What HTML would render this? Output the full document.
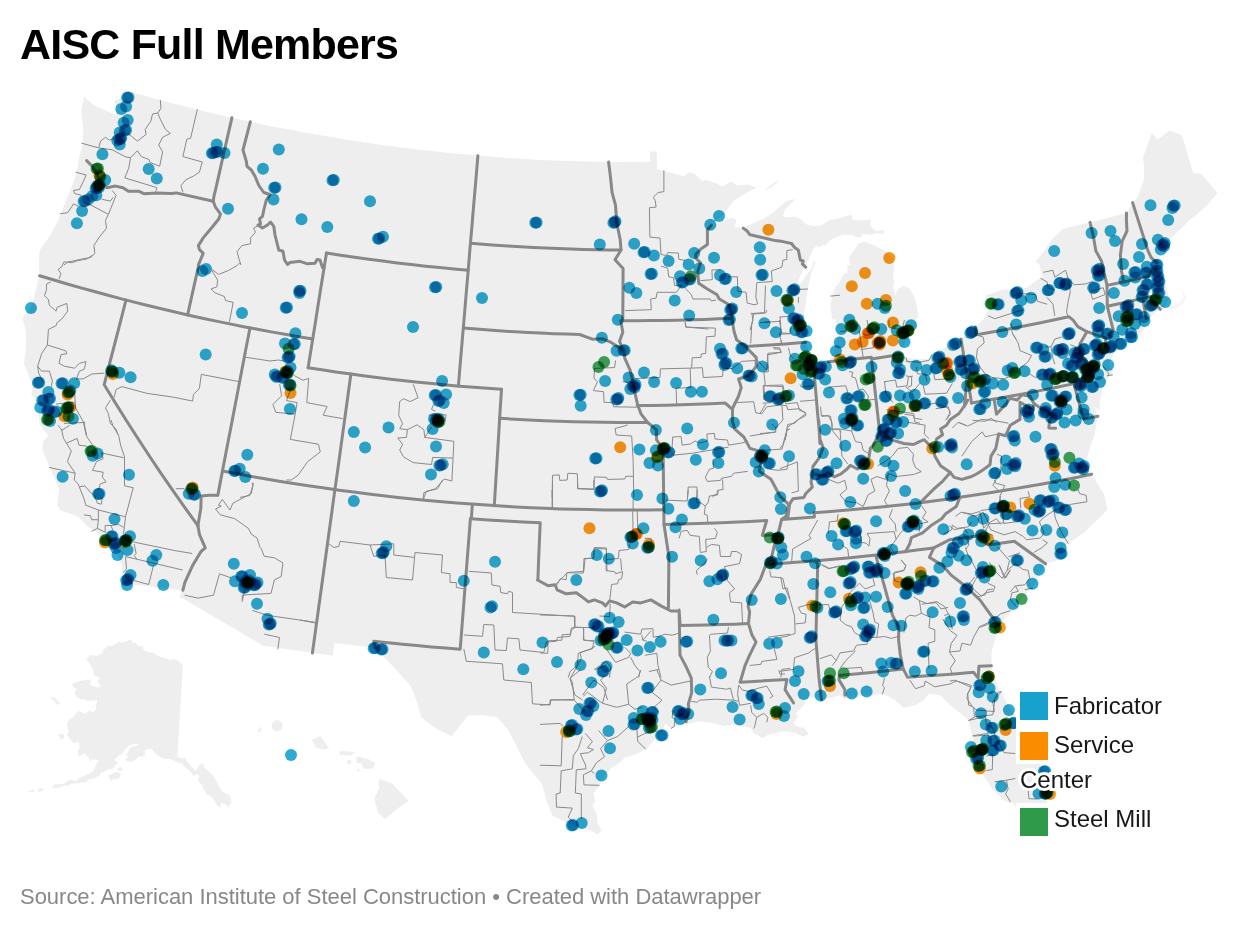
<!DOCTYPE html>
<html><head><meta charset="utf-8"><title>AISC Full Members</title><style>
html,body{margin:0;padding:0;background:#fff}
body{width:1240px;height:930px;position:relative;overflow:hidden;font-family:"Liberation Sans",sans-serif;color:#000}
svg{position:absolute;left:0;top:0}
.base{filter:blur(0.7px)}
.dots circle{mix-blend-mode:multiply;fill-opacity:.9}
h1{position:absolute;left:20px;top:20px;margin:0;font-size:43px;line-height:48px;font-weight:700;letter-spacing:-0.81px;white-space:nowrap}
.foot{position:absolute;left:20px;top:884px;font-size:22px;line-height:26px;letter-spacing:-0.02px;color:#888;white-space:nowrap}
.lg{position:absolute;font-size:24px;line-height:34px;color:#181818}
.lg .bg{position:absolute;background:#fff}
.lg .sw{position:absolute;width:28px;height:28px}
.lg span{position:absolute;white-space:nowrap}
</style></head><body>
<svg width="1240" height="930" viewBox="0 0 1240 930"><g class="base"><g fill="#eeeeee"><path d="M84.1 96.5L81.3 110L83.2 128.6L82.8 140.5L81.9 147.8L78.9 158.3L77.3 169L74.2 180.1L69 193.6L64.5 204.3L58.2 220.6L49.7 236.2L39.7 250.2L38.8 263.3L39.6 275.7L37.7 282.7L32.8 302.5L29.6 309.2L22.2 317.9L26.4 332.5L25.7 350.6L23.9 363.8L33.1 386.3L31.2 394.9L40.5 403.6L38.5 412.1L39.7 424.6L44 430.4L48.3 436.1L43.4 440.8L42.2 449.6L51.7 471.8L59.1 488.9L57.1 505.6L60.3 510.3L77.5 516.3L87.2 526.3L96.8 532.2L103 542.1L110.7 545.5L118.4 554.7L123.4 573.8L124.9 583.6L182.8 590.3L179.4 596.4L263.2 645.8L332.8 655.8L334.5 642.9L375.3 647.8L387 660.1L400.4 674.6L410.5 685.8L415.6 697.9L421.4 717.3L435.6 728.6L451.5 736.3L458.5 727.5L468.2 715.2L482 715.2L496.9 717L507.6 729.1L518 748.4L525 763.2L542.1 784L546.7 801.4L552.7 816L572 825.1L592.9 831.3L592.4 831.3L597.5 834.3L601.5 830.3L597.5 823.2L596.5 813.1L592.4 805.1L595.4 801L593.4 793L598.5 786.9L602.5 778.9L610.6 768.8L620.6 761.7L624.7 757.7L634.8 754.7L645.8 749.6L652.9 741.6L663 730.5L665 723.4L671 728.5L679.1 725.4L687.1 724.2L698.7 721.3L710.3 722.6L723.9 726.1L733.5 724.6L741.3 726.1L751 728.1L752.9 732.9L762.6 737.7L768.4 734.8L776.1 732.9L783.9 731L795.5 732.9L803.2 736.8L809 733.9L804.2 728.1L795.5 726.1L793.5 722.3L798.4 716.5L795.5 713.5L801.3 707.7L803.2 705.8L807.1 699L814.8 697.1L822.6 699L834.2 697.1L840 695.2L843.9 699L853.5 697.1L865.2 695.2L872.9 695.5L882.6 693.5L894.2 699.4L903.9 708.1L915.5 705.2L924.2 699.4L929 693.5L940.6 695.5L950.3 705.2L960 712.9L968.7 720.6L971.6 734.2L973.5 740L968.3 748L972.4 759L983.3 774.9L991.8 788.2L1004.2 800.8L1014 803.6L1024.9 822.2L1037.9 820.1L1045.1 814.6L1046.8 801.2L1045.4 773.9L1034.7 752.4L1024.2 727.9L1009.2 706.9L998.6 688.1L993.9 674.2L991.4 665.8L991.6 651.1L998.1 629.5L1004 619.7L1015.2 606.1L1020 600.9L1033.6 585.2L1045.5 563.8L1058.1 559.9L1062.9 547.2L1084.1 532.5L1107.5 509.7L1103.9 494.1L1091.6 474.3L1086.5 465L1086.4 459L1094.8 433.3L1097.9 416.2L1094.5 406.5L1099.4 410.6L1100 398.7L1102.6 388.4L1107.7 378.1L1111.6 375.5L1112.9 370.3L1109 363.9L1111.6 357.4L1115.5 352.3L1137.4 336.8L1140 334.2L1143.9 329L1150.3 317.4L1155.5 312.3L1163.2 309.7L1169 299.4L1167 289L1164.5 281.3L1162.3 274.1L1156.3 268.2L1157 262.9L1163.4 246.7L1169.9 238.9L1181.8 227.9L1190.1 219.4L1197.2 214.3L1207.3 205.1L1217.5 192.9L1210.5 184.4L1200.9 173.8L1193.2 173.1L1181.9 135.3L1169.9 130.5L1159.8 138L1157.1 139.4L1151.8 132.9L1142.8 157.9L1144.2 166.5L1143.8 180L1137.3 198.3L1132.6 202.6L1126.5 212.9L1090 222.4L1063.2 228.7L1051.1 240.3L1043.2 252.4L1035.6 261.4L1039.6 265L1042.3 277.8L1036.4 280.2L1027.2 287.7L1014.8 289.3L1002.1 289.7L985.1 295.8L990.1 305.8L983.9 318.8L975.4 327L968.9 331.7L961 338.9L945.5 347.3L938.1 355.8L925.6 359.1L916.9 358.9L910.3 358.3L900.1 355.3L905.1 344.3L905.2 337L908.8 332.1L916.6 326.6L916.6 314.9L918.4 320L917.4 308.4L914.5 296.8L908.7 288.1L902.9 286.1L898.1 289L895.2 294.8L893.2 287.1L894.2 281.3L893.2 275.5L894.2 265.8L891.3 256.1L885.5 251.3L880.6 248.4L871.9 244.5L864.2 241.6L858.4 243.5L854.5 250.3L850.6 254.2L849.1 258.1L850.3 265.8L847.7 263.9L847.2 272.6L844.8 273.5L842.9 275.5L839 283.2L835.2 287.1L832.3 294.8L830.3 306.5L832.3 320L835.1 319L838.5 331.8L834.1 351.3L828.3 361.8L820.6 366.6L813.5 364.9L811.4 359.8L805.6 342.3L802.5 326.5L803.2 320L804.2 312.3L806.1 300.6L808.1 287.1L811 273.5L815.8 261.9L813.9 261L811.9 267.7L806 276L801 283L797.4 284.2L800.3 275.5L804.2 268.7L806.1 265.8L810 256.1L813.9 248.4L816.8 245.5L818.7 247.4L823.5 244.5L825.5 245.5L829.4 240.6L837.1 236.8L842.9 234.8L851.6 234.8L856.5 236.8L860.3 237.7L862.3 233.9L871.9 234.8L875.8 232.9L884.5 233.9L883.5 230L875.8 231L870 226.1L871 219.4L862.3 220.3L852.6 220.3L851.6 214.5L839 218.4L829.4 220.3L821.6 225.2L813.9 226.1L806.1 224.2L801.3 219.4L795.5 216.5L786.8 217.4L782.9 216.5L784.8 209.7L790.6 203.9L795.5 199L786.8 201L781 205.8L773.2 212.6L765.5 217.4L753.9 223.2L748.1 225.2L743.2 228.1L734.5 227.1L736.5 220.3L731.6 217.4L722.9 221.3L711.3 225.2L723.9 214.5L726.8 209.7L734.5 200L746.1 193.2L756.8 187.4L748.1 184.5L736.5 185.5L731.6 181.6L721.9 186.5L717.1 183.5L705.5 179.7L702.6 181.6L695.8 174.8L690 171.9L683.9 176.3L664.4 171L657.3 169.2L656.6 151.5L650 151.5L650 161.7L613 162.1L574.7 161.3L536.3 159.7L498 157.3L459.8 154L421.6 150L383.5 145.2L345.5 139.6L307.7 133.1L270 125.9L232.5 117.9L195.1 109.1L157.9 99.5L124.2 90L121.3 95.3L119 99L114 101L117 108L115.6 114.7L111.6 113.1L94.7 105.8L85.5 98Z"/><path d="M765.5 189.4L773.2 183.5L780 180.1L778.1 181.6L771.3 187.4L766.5 189.9Z"/><path d="M1171 311L1176 308.4L1183.9 303.2L1186.5 296.8L1182.6 291L1181.3 291.6L1183.9 296.8L1180 301.9L1173.5 305.8L1168.4 305.8Z" fill="#f5f5f5"/><path d="M130.3 639.2L133.4 643.3L135.4 642.3L138.5 646.3L142.5 645.9L143.6 650L147.7 652.1L152.8 652.5L156.8 654.9L160.9 657L166 658.2L170.1 660.2L174.2 659L178.3 661L183 665.1L177.3 756.6L181.4 758.3L185.4 757.7L186.5 760.7L193.6 768.9L195.7 770.9L198.7 766.8L199.7 764.8L202.8 763.2L204.8 767.9L213 775.4L222.2 791.4L230.4 795.8L231.4 802.6L228.3 807.7L226.3 804.6L221.2 802.6L220.2 807.7L216.1 804.6L215.1 801.6L212 797.5L210 795.4L206.9 794.4L203.8 789.3L201.8 785.2L199.7 782.2L197.7 780.1L199.7 776L196.7 774L193.6 776L189.5 770.9L183.4 765.8L182.4 762.8L180.3 763.2L169.1 758.7L164 759.1L156.8 755L151.7 748.9L144.6 750.1L145 754.6L142.5 757L139.5 756.2L132.3 761.7L126.2 761.1L125.2 758.7L128.3 757.7L126.2 754.6L129.3 750.5L130.3 747.4L134.4 746L138.1 745.4L137.4 743.8L133.4 743.8L129.3 745.8L125.2 748.9L122.1 754.2L119.1 755L114.4 759.7L117.6 762.8L114 767.3L110.9 768.9L107.8 769.3L102.7 772.6L100.7 773L99.7 775.4L94.6 778.1L88.4 779.5L86.4 782.2L81.3 782.2L79.2 783.2L71.1 783.6L68 785.6L63.9 785.6L58.8 787.7L51.7 787.7L54.7 784.2L62.9 784.2L70 779.7L76.2 781.1L79.2 778.1L87.4 774.6L93.5 770.9L96.6 763.8L99.2 759.7L93.5 759.7L91.9 758.3L91.5 760.7L89.9 760.7L88.4 756.6L86.4 756.2L85.4 753.6L78.2 756.2L77.8 750.5L79.8 748.1L78.6 741.3L77.2 742.7L72.7 742.7L67 734.2L69 730.5L67.4 728.4L67.4 721.5L74.1 716.2L77.2 712.1L79.6 710.7L84.3 714.2L89.4 710.7L93.5 712.1L96 709.2L95.6 704.6L97.2 702.5L96.6 699.9L88.4 701.1L83.3 699L80.3 699L76.2 696.4L74.7 692.3L76.8 689.6L73.1 686.8L72.1 683.5L81.3 680.7L87.4 679.4L91.1 680.7L89.9 684.7L97.2 687.6L100.7 686.2L97.6 681.1L99.7 677.4L93.9 675.3L93.1 669.2L86.4 659L89.9 654.9L96.6 656.1L101.7 653.5L103.7 649.4L108.8 645.3L110.9 646.3L119.1 641.6L122.1 642.7L126.2 641.8Z"/><path d="M50.2 697L55.7 697.8L58.4 701.9L60.8 703.5L56.4 704.8L54.7 701.5Z"/><path d="M57.2 734.2L63.3 734.2L64.5 736.2L63.3 738.9L61.3 739.3Z"/><path d="M108.2 775.4L116 772L120.5 773L120.1 777.1L117.6 779.1L113.5 779.1L110.9 781.1Z"/><path d="M117 769.9L120.1 766.8L123.1 769.9L120.1 770.9Z"/><path d="M26.1 792.4L33.3 789.3L34.3 791.4Z"/><path d="M37.4 791.4L39.4 788.3L41.4 787.7L43.5 790.3L40.4 791.8Z"/><path d="M379.3 779.1L391.9 783.5L401.8 793.8L408.9 801.1L397.7 808.6L385.1 819L378.1 813.1L374.3 798.4L379.3 788L378.5 785Z"/><path d="M357.7 756.4L368.1 759.1L375.6 763.5L372.3 768.8L363.3 768.8L361.9 763.5L356.9 762.9L355.5 758.5Z"/><path d="M340.2 751.1L354.9 752L351.3 755.5L338.8 754.7Z"/><path d="M351.5 762L350.8 760.4L349.1 759.7L347.4 760.4L346.7 762L347.4 763.7L349.1 764.4L350.8 763.7Z"/><path d="M359.7 770.3L359 769.1L357.6 769.1L357 770.3L357.6 771.4L359 771.4Z"/><path d="M319.9 736L326.3 743.7L329 748.1L324.3 749.6L316.5 748.1L311.5 740.1Z"/><path d="M282.8 725.8L282.1 723L280 720.9L277.2 720.1L274.4 720.9L272.3 722.9L271.5 725.7L272.2 728.5L274.3 730.5L277.1 731.3L279.9 730.6L282 728.6Z"/><path d="M261 726.4L261.5 730L257.6 733.5L257.7 729.9Z"/></g><g fill="none" stroke="#8a8a8a" stroke-width="1" stroke-linejoin="round"><path d="M160.3 100.1L161 108.2L157.7 113.1L152.5 114L151 120.8L145.2 129.5L146.1 134.4L137.4 141.1L131.6 136.3L126.8 133.4"/><path d="M157.7 113.1L160.6 119.8L165.5 129.5L170.3 133.4L162.6 137.3L158.7 145L162.6 151.8L159.7 166.3"/><path d="M197.4 109.2L190.6 138.2L186.8 139.2L182.9 156.6L202.3 162L199.4 172.1L193.5 176L185.8 179.8L181 185.6L182.9 192.4"/><path d="M81.3 143.1L98.7 147.9L112.3 149.8L125.8 157L130.6 157.6"/><path d="M98.7 147.9L100.6 141.1L105.5 137.3L109.4 140.2L114.2 138.2"/><path d="M130.6 157.6L137.4 150.8L141.3 156.6L149 159.5L150 162.4L159.7 166.3"/><path d="M130.6 157.6L128.7 168.2L124.8 177.9L156.8 187.6L155.8 191.5"/><path d="M75.5 172.1L86.1 175L83.2 181.8L79.4 189.5L73.5 190.5L74.5 193.4L81.3 195.3"/><path d="M60 213.7L67.7 212.7L73.5 204L78.4 206"/><path d="M87.1 203.1L108.4 214.3L116.1 195.3L112.3 190.5"/><path d="M108.4 214.3L105.5 220.5L106.5 228.2L98.7 237.9L93.9 245.6L94.8 253.4L91 257.3L81.3 259.2L67.7 262.1L63.9 265"/><path d="M101.6 199.2L110.3 201.1L113.2 197.3"/><path d="M259.4 225.3L253.5 228.2L255.5 232.1L250.6 237.9L250.6 243.7L241.9 245.6L237.1 251.5L239 259.2L241 265"/><path d="M92.9 255L87.1 258.9L77.4 260.8L71.6 262.7L63.9 261.8L61.9 266.6L58.1 269.5L61 273.4L59 279.2"/><path d="M50.7 282.1L46.5 284L46.5 289.8L44.5 295.6L48.4 299.5L49.4 305.3L56.1 311.1L57.1 307.3L66.8 303.4L67.7 311.1L61.9 318.9L57.1 322.7L56.1 325.6L48.4 329.5L47.4 345L65.8 350.8L66.8 353.7L61 354.7L59 363.4L64.8 366.3L74.5 368.2L79.4 363.4L86.1 361.5L84.2 369.2L79.4 371.1L76.5 378.9"/><path d="M47.4 345L41.6 353.7L37.7 366.3L41.6 371.1L49.4 371.1L52.3 380.8L51.3 386.6"/><path d="M37.7 366.3L38.7 373.1L43.5 382.7"/><path d="M76.5 378.9L83.2 378.9L91.9 374L104.5 373.1"/><path d="M240 381.8L201.3 374.4L199.4 388.5L193.5 394.4L192.6 401.1L174.2 397.3L147.1 393.4L121.9 386.6L116.1 389.5L114.2 397.3"/><path d="M110.3 400.2L105.5 407.9L108.4 413.7L110.3 423.4L116.1 429.2L118.1 435"/><path d="M211.9 269.5L218.7 274.4L228.4 270.5L237.1 265.6L240 262.7"/><path d="M211.9 270.5L217.7 280.2L216.8 286.9L211 288.9L214.8 292.7L224.5 296.6L225.5 300.5L233.2 302.4L229.4 321.8"/><path d="M74.5 390.5L75.5 407.9L83.2 421.5L86.1 435"/><path d="M56.1 404L65.8 403.1L74.5 402.1"/><path d="M63.9 423.4L85.2 422.4"/><path d="M58.1 425.3L61.9 430.2L69.7 425.3"/><path d="M111 420L112.9 425.8L118.7 435.5L120.6 445.2L124.5 456.8L124.5 485.8L133.2 487.7L125.5 516.8L123.5 534.2"/><path d="M83.9 421.9L86.8 436.5L92.6 445.2"/><path d="M101.3 452.9L123.5 457.7"/><path d="M66.5 443.2L77.1 438.4L79 445.2L86.8 446.1"/><path d="M61.6 429.7L63.5 438.4L71.3 451L67.4 461.6L75.2 473.2L74.2 480L78.1 483.9L83.9 498.4L85.8 505.2L98.4 510L125.5 516.8"/><path d="M49 467.4L75.2 473.2"/><path d="M101.3 452.9L103.2 458.7L96.5 461.6L92.6 470.3L103.2 472.3L102.3 477.1L106.1 481.9L100.3 483.9L98.4 489.7"/><path d="M80 486.8L84.8 485.8L90.6 492.6L94.5 495.5L97.4 503.2L101.3 504.2L102.3 497.4"/><path d="M83.9 514.8L90.6 515.8L91.6 519.7L98.4 519.7L98.4 510"/><path d="M98.4 519.7L97.4 528.4L91.6 531.3"/><path d="M97.4 528.4L105.2 532.3L105.2 525.5L111 525.5L112.9 530.3"/><path d="M111 525.5L118.7 524.5L123.5 527.4"/><path d="M133.2 541.9L174.8 550.6L192.3 553.5"/><path d="M134.2 543.9L136.1 553.5L134.2 555.5L137.1 559.4"/><path d="M125.5 556.5L182.6 570"/><path d="M125.5 556.5L126.5 569L122.6 572.9"/><path d="M134.2 580.6L148.7 584.5L153.5 565.2"/><path d="M175.8 488.7L184.5 488.7"/><path d="M253.2 482.9L251.3 493.5L232.9 503.2L230 510L222.3 499.4L218.4 505.2L221.3 506.1L215.5 509L220.3 514.8L234.8 518.7L248.4 528.4L251.3 534.2L257.1 538.1L260 547.7"/><path d="M184.5 595.2L198.1 598.1L213.5 595.2L219.4 573.9L231 577.7"/><path d="M244.5 590.3L242.6 600"/><path d="M244.8 357.1L270 361L278.7 360L283.5 361"/><path d="M294.2 375.5L302.9 380.3L308.7 378.4L306.8 402.6L327.1 406.5L323.2 415.2L342.6 418.6"/><path d="M279.7 384.2L281.6 395.8L272.9 404.5L275.8 412.3L295.2 414.2L297.1 402.6L286.5 400.6L290.3 390"/><path d="M295.2 414.2L290.3 439.4L318.4 444.2L320.3 451.9L307.7 461.6L298.1 475.2L291.3 480L286.5 480"/><path d="M251.6 482.9L253.5 483.9L249.7 495.5L240 497.4"/><path d="M413.2 384.2L418.1 397.7L410.3 401.6L403.5 398.7L399.7 401.6L398.7 415.2L402.6 423.9L399.7 428.7L407.4 429.7L417.1 424.8L423.9 429.7L424.8 437.4L453.9 441.3L451.9 481L444.2 479L435.5 488.7L423.9 492.6L422.9 500.3"/><path d="M407.4 429.7L406.5 437.4L397.7 438L402.6 444.2L399.7 450L403.5 456.8L413.2 462.6L431.6 464.5L432.6 457.4L452.9 458.1"/><path d="M424.8 437.4L431.6 426.8"/><path d="M428.7 415.2L446.1 414.8L445.2 421"/><path d="M433.5 404.5L431.6 409.4L435.5 411.3"/><path d="M472.3 505.2L472.3 510"/><path d="M442.5 480L437.5 488.8L426.3 491.3L423.3 499.5"/><path d="M328.8 543.8L333.8 547.5L338.8 546.3L340 541.3L370 545L373.8 556.3L385 555L386.3 577.5L412.5 580L415 552.5L442.5 555L441.3 572.5L450 573.8L450 582.5L456.3 582.5L456.3 587.5L463.8 588.8"/><path d="M370 545L393.8 543.8L393.8 555L415 557.5"/><path d="M300 620L315 623"/><path d="M468.8 571.3L491.3 573L492 585L500 586.3L500.8 592.5L507.5 593.8L508.8 591.3L512.5 592.5L512.5 612.5L575 616.3L575 627.5L571.3 630L570 636.3L557.5 637.5L556.3 641.3L546.3 642L543.8 652.5L520 650L518.8 638.8L507.5 638L506.3 650.5L495 650L493.8 625L483.8 624.5L482.5 636.3L463.8 635"/><path d="M463.8 648.8L466.3 661.3L502.5 663.8L503.8 680L531.3 682.5L532.5 703.8L550 705L550 700L573.8 699.5"/><path d="M575 627.5L595 627.5"/><path d="M552.5 480L552.5 507.5"/><path d="M577.5 480L577.5 488.8L593.8 489.5L593.8 480"/><path d="M556.3 583.8L561.3 578.8L567.5 572.5L583.8 571.3L585 558.8L593.8 558L594.3 547.5L606.3 548L607 571.3"/><path d="M583.8 628.8L583.3 640L593.8 641.3L592.5 648.8L580 652.5L581.3 658.8L570 678.8L575 695L582.5 700"/><path d="M595 670L606.3 665"/><path d="M582.5 695L593.8 680L603.8 687.5L607.5 700"/><path d="M663.9 170.3L663.9 191.6L658.1 192.6L653.2 197.4L655.2 200.3L656.1 207.1L649.4 207.7L649.9 237.1L660 238.1L661 254.5L666.8 255.5L667.7 252.6L678.4 253L678.8 259.4L685.2 260.3"/><path d="M661 266.1L667.7 268.1L668.7 276.8L673.5 277.7L674.5 285.5L682.3 285.5"/><path d="M625.2 310.6L651.3 309.7L650.7 299L656.1 298.1L657.1 292.3L676.5 292.3L681.3 285.5"/><path d="M685.2 288.4L691 294.2L692.9 299L710.3 299L711.3 301L716.1 300"/><path d="M700.6 280.6L712.3 279.7L711.9 270L721 269.6"/><path d="M727.7 276.8L737.4 276.8L737.8 291.3L746.1 292.3L747.1 302.9L753.9 304.8L757.7 303.9L755.8 297.1L756.8 282.6L772.3 281.6L771.3 271L781.9 267.1L782.9 260.3L786.8 259.4L786.8 250.6L792.6 249.7"/><path d="M765.5 285.5L764.5 312.6L751.9 313.5L752.9 320.3L750 330"/><path d="M780 316.5L781 330"/><path d="M764.5 322.3L780 321.3"/><path d="M797.4 289.4L808.1 289"/><path d="M798.4 297.1L798.4 302.9"/><path d="M685.2 322.3L686.1 327.1L708.4 329"/><path d="M830.3 296.1L840 295.2"/><path d="M685.2 321.1L685.6 327.1L715.4 328.1L715 336.2L706.3 336.8L705.7 353.3L701.3 354L700.9 357.4L692.2 357.8L691.6 368.1L660.4 368.9L660 377.5L634.8 378.5"/><path d="M691.6 368.1L702.3 367.7L703.3 377.5L722.5 376.5L723.1 368.5L732.5 368.5L741.6 361.4L757.7 360.4"/><path d="M690.2 368.5L690.8 387.6L676.1 388.2L676.7 404.8"/><path d="M615.6 360.4L614.6 367.5L594.4 368.5L594 378.5L597.5 381.6L593.4 390.6L603.5 391.7L604.1 402.3L612.6 402.7L613.6 406.8L636.8 407.2"/><path d="M622.7 381.6L628.7 382.6"/><path d="M615 428.5L616.2 435L631.7 436L633.1 459.2L633.8 497.5"/><path d="M615 428.5L624.7 425.9L627.7 424.9"/><path d="M552.1 497.5L552.5 475.3L559.2 474.9L559.8 480.4L567.2 480L567.8 473.3L577.3 473.7L577.9 488.4L594 489L594.4 476.9L606.5 477.3L607.5 479.4L624.7 479L625.7 476.3L633.1 476.3"/><path d="M672.1 447.1L672.7 437L681.1 436.6L682.1 445.1L690.2 444.1L695.2 441L699.3 443.1L707.3 441L706.9 434L714.4 433.4L715 439L727.5 440L728.5 445.1L741.6 443.1L747.7 441"/><path d="M672.1 447.1L675.1 451.1L673.1 455.2L693.2 453.1L728.5 447.1"/><path d="M747.7 471.3L733.5 473.3L731.5 476.3L721.5 478.3L720.4 480.4L707.3 481.4L705.3 477.3L709.4 469.3L713.4 468.3L713 459.2"/><path d="M722.5 479.4L723.1 489.4L717.4 490.4L717 494.5L713.4 495.1L713 497.5"/><path d="M687.6 497.5L688.2 487L696.9 487L697.3 497.5"/><path d="M750.7 313L753.7 314L751.7 325.1L750.7 343.3"/><path d="M753.7 314L765.8 313L766.8 310"/><path d="M779.9 317.1L790 316"/><path d="M764.8 322.5L769.8 322.1"/><path d="M779.9 334.2L790 333.8"/><path d="M781.9 340.2L780.9 343.3"/><path d="M767.8 353.3L780.9 352.3L779.9 349.3L773.9 348.7"/><path d="M767.8 353.3L766.8 370.5L757.7 360.4"/><path d="M784 390.6L782.9 385L763.8 385.6L764.8 399.7L766.8 400.7"/><path d="M733.5 402.7L753.7 401.7L755.7 412.8L761.8 413.8L766.8 406.8L781.9 404.8L782.9 419.9L775.9 427.9L771.9 423.9"/><path d="M775.9 427.9L774.9 432L749.7 436"/><path d="M790 429L787 430L786 436L781.9 449.1L766.8 450.1"/><path d="M788 462.2L787 469.3L777.9 470.3L769.8 469.3"/><path d="M552.1 490L552.1 508.1"/><path d="M633.1 500.1L633.1 510.2"/><path d="M632.7 511.2L633.1 532.3L628.7 533.3"/><path d="M637.2 511.2L637.8 529.3"/><path d="M644.8 538.4L650.9 538.4L651.9 542.4"/><path d="M557.1 584.8L560.2 578.7L566.2 579.7L566.8 572.7L583.3 573.1L584 558.5L593.4 558.1L594 548.5L606.5 548.9L606.1 570.6L614.6 571.7L615.6 573.7L622.7 571.7L621.7 578.7L618.6 579.7L617.6 583.8L611.6 584.4L609.6 600.9"/><path d="M606.1 559.6L618.6 558.5L619 550.5L628.7 549.5L629.7 544.4"/><path d="M620.6 558.5L621.7 570.6"/><path d="M540 615L574.3 616L574.7 627.1L571.3 628.1L570.6 634.2L562.2 634.8L561.8 640.2L548.1 640.8L547.7 653.3L540 652.9"/><path d="M574.7 627.1L583.3 627.5L584 640.2L594.4 640.8"/><path d="M599.5 616L609.6 616.6L610.2 603.9"/><path d="M578.3 653.3L577.3 665.4L570.2 671.5L568.2 677.5"/><path d="M578.3 653.3L589.4 649.3L595.4 646.3"/><path d="M594.4 669.4L606.5 661.4L610.6 667.4L609.6 677.5"/><path d="M606.5 649.3L615.6 662.4L628.7 657.3L630.7 653.3L624.7 647.3"/><path d="M624.7 632.1L640.8 634.2L641.8 629.1L652.9 628.7L653.3 637.2L659 636.2L665 634.2L672.1 635.2L679.1 633.1"/><path d="M642.8 640.2L650.9 631.1"/><path d="M641.8 635.2L642.8 640.2L646.9 641.2"/><path d="M630.7 657.3L634.8 665.4L639.8 671.5L638.8 677.5"/><path d="M644.8 655.3L656.9 653.3L657.9 665.4L661 677.5"/><path d="M648.9 671.5L659 669.4"/><path d="M679.1 538.4L681.1 531.3L687.2 530.3L690.2 535.4L699.3 536.4L700.3 552.5L706.3 551.5L705.7 539.4L715.4 538.4L717.4 532.3L714.4 528.3"/><path d="M706.3 547.5L711.4 544.4L719.4 545.4L720.4 556.5L730.5 556.5L731.5 551.5L736.6 551.5L741.6 554.5L739.6 563.6L724.5 566.6L727.5 580.7L734.6 588.8L729.5 592.8L730.5 601.9L741.6 602.9L742.6 624.1"/><path d="M697.3 574.7L696.3 570.6L705.3 562.6L707.3 558.5"/><path d="M666 500.1L687.2 501.1L688.2 490"/><path d="M697.3 490L696.3 502.1L701.3 503.1L705.3 506.1L704.3 514.2L707.3 515.2L707.7 523.3"/><path d="M718.4 490L717.4 495L709.4 496L708.3 502.1L705.3 506.1"/><path d="M769.8 570.6L770.8 576.7L780.9 577.7L782.9 588.8L787 587.8L790 598.9"/><path d="M767.8 637.2L790 634.2"/><path d="M773.9 647.3L776.9 659.4L761.8 661.4L760.8 664.4L749.7 665.4"/><path d="M709.4 635.2L711.4 634.2L727.5 633.1L728.5 627.1"/><path d="M709.4 635.2L710.4 651.3L707.3 657.3L708.3 667.4L712.4 671.5L709.4 677.5"/><path d="M780.9 677.5L781.9 669.4L790 668.4"/><path d="M540 705.3L550.1 704.3L551.1 699.8L574.3 700.2L572.3 682.1L570.2 678.1L580.3 670"/><path d="M574.3 700.2L583.3 710.3L585.4 713.3"/><path d="M583.3 696.2L587.4 692.2L602.5 703.3L606.5 688.1L600.5 680.1L604.5 676"/><path d="M602.5 703.3L616.6 707.3L628.7 704.3L626.7 684.1L638.8 676L640.8 670"/><path d="M628.7 704.3L634.8 709.3L641.8 707.3"/><path d="M651.9 692.2L662 700.2L653.9 707.3L659 712.3"/><path d="M656.9 670L661 680.1L671 685.1L690.2 681.1"/><path d="M661 680.1L651.9 692.2"/><path d="M540 724.4L560.2 723.4L563.2 726.5"/><path d="M562.2 736.5L561.2 765.8L540 765.2"/><path d="M582.3 736.5L578.3 748.6L573.3 755.7L572.3 768.8L561.2 770.8L560.2 793L556.1 794L556.5 807.1L572.3 808.1L568.2 817.2L572.3 821.2"/><path d="M585.4 733.5L592.4 741.6L587.4 747.6L593.4 749.6L588.4 752.7L580.3 753.7L585.4 764.8L586 768.8L576.3 769.8L575.3 793L581.3 794L581.3 819.2"/><path d="M598.5 730.5L607.5 740.6L600.5 748.6L604.5 756.7L596.5 762.7L591.4 770.8L594.4 773.8"/><path d="M591.4 770.8L583.3 774.8L584 784.9L599.5 785.3"/><path d="M607.5 740.6L617.6 736.5L628.7 726.5"/><path d="M636.8 728.5L637.8 741.6L645.8 749"/><path d="M636.8 737.5L644.8 733.5L649.9 731.5"/><path d="M673.1 710.3L672.1 717.4L675.1 719.4L674.1 726.5L671 728.5"/><path d="M691.2 701.3L697.3 702.3L699.3 700.2L715.4 699.2L733.5 700.2L738.6 701.3"/><path d="M709.4 676L711.4 687.1L726.5 689.2L730.5 688.1L733.5 700.2"/><path d="M738.6 685.1L742.6 690.2L748.7 691.2L758.8 688.1L766.8 686.1L769.8 691.2L772.9 696.2L769.8 698.2"/><path d="M738.6 685.1L737.6 694.2L739.6 705.3L750.7 703.3"/><path d="M750.7 705.3L751.7 712.3L756.7 717.4L754.7 726.5L753.7 728.5"/><path d="M756.7 717.4L763.8 713.3L767.8 717.4L766.8 722.4"/><path d="M778.9 670L779.9 674L785 674"/><path d="M780 577.4L782.9 578.4L784.8 587.1L790.6 601.6L794.5 616.1L795.1 633.5L785.8 636.5L780 637.4"/><path d="M798.4 607.4L808.1 604.5L820.6 604.9"/><path d="M798.4 607.4L801.3 613.2L806.1 614.2L805.2 622.9L795.5 623.9"/><path d="M780 671.3L793.5 669.4L794.5 657.7L809 652.9L811 651L815.8 648.1"/><path d="M821.6 564.8L828.4 568.7L840 565.8"/><path d="M819.7 604.9L828.4 604.5L830.3 610.3"/><path d="M841.9 606.5L845.8 601.6L849.7 592.9L859.4 583.2L865.2 589L874.8 585.2L872.9 578.4L877.7 575.5"/><path d="M840 620L845.8 624.8L851.6 626.8L854.5 632.6L861.3 636.5"/><path d="M841.9 606.5L840 620"/><path d="M870 601.6L872.9 612.3L874.8 621.9L878.7 623.9L876.8 637.4L884.5 636.5L891.3 638.4L898.1 636.5"/><path d="M819.7 658.7L831.3 654.8L836.1 660.6L832.3 665.5"/><path d="M836.1 660.6L840 652.9L853.5 651L856.5 645.2L867.1 644.2L868.1 637.4L876.8 637.4"/><path d="M840 668.4L845.8 660.6L855.5 651"/><path d="M845.8 668.4L861.3 667.4L863.2 673.2"/><path d="M893.2 573.5L894.2 580.3L899 582.3"/><path d="M893.2 573.5L903.9 570.6L905.8 565.8L901 560"/><path d="M913.5 596.8L919.4 600.6L921.3 613.2L915.5 616.1L909.7 615.2L905.8 618.1L903.9 632.6"/><path d="M919.4 600.6L927.1 603.5L936.8 601.6L944.5 606.5L948.4 614.2"/><path d="M921.3 613.2L930 617.1L929 627.7L934.8 629.7L934.8 641.3L928.1 643.2L929 668.4"/><path d="M942.6 619L950.3 630.6L957.1 635.5L951.3 643.2L949.4 651.9L960 651L961.9 643.2L970.6 645.2L973.5 637.4L979.4 626.8L990 621.9"/><path d="M949.4 651.9L955.2 660.6L950.3 668.4L952.3 674.2"/><path d="M1010.3 591.9L1015.2 586.1L1020 585.2"/><path d="M970.6 589L975.5 579.4L981.3 572.6"/><path d="M992.9 589L987.1 590L985.2 594.8L977.4 596.8"/><path d="M999.7 565.8L1004.5 578.4L1010.3 569.7"/><path d="M884.5 678.1L882.6 685.8L884.5 687.7L882.2 694.5"/><path d="M909.7 680L915.5 688.7L924.2 685.8L925.2 681L934.8 686.8L950.3 683.9L956.1 681L966.8 683.9L971.6 685.8"/><path d="M971.6 685.8L967.7 693.5L968.7 705.2L973.5 707.1L974.5 716.8L968.7 720.6"/><path d="M974.5 716.8L992.9 714.8L994.8 699.4L999.7 693.5L1001.6 691.6"/><path d="M973.5 736.1L985.2 735.2"/><path d="M780 404.8L786.8 405.8L787.7 409.7L799.4 408.7L806.1 413.5L798.4 419.4L787.7 427.1L782.9 444.5L780 448.4"/><path d="M780 468.7L797.4 461.9L798.4 491L791.6 492.9"/><path d="M821.6 416.5L828.4 415.5L831.3 421.3L832.3 429L840 429L841.9 456.1L847.7 463.9"/><path d="M851.6 431L855.5 441.6L861.3 442.6L863.2 450.3L868.1 453.2"/><path d="M840 429L851.6 431L852.6 423.2"/><path d="M828.4 479.4L838.1 483.2L844.8 480.3L846.8 489L840 494.8L845.8 501.6L856.5 502.6L863.2 506.5L868.1 494.8L874.8 491L871 479.4L876.8 476.5L885.5 479.4L888.4 473.5"/><path d="M888.4 473.5L886.5 485.2L889.4 491L884.5 500.6L887.4 505.5"/><path d="M877.7 465.8L884.5 461.9L892.3 456.1L898.1 448.4L907.7 447.4L913.5 454.2L912.6 460L915.5 467.7L921.3 471.6L913.5 474.5L896.1 476.5L888.4 473.5"/><path d="M886.5 409.7L913.5 413.5L914.5 418.4L922.3 419.4"/><path d="M907.7 422.3L925.2 425.2L924.2 433.9L929 438.7"/><path d="M935.8 403.9L946.5 406.8L950.3 411.6L946.5 419.4"/><path d="M958.1 422.3L967.7 426.1L981.3 419.4L992.9 420.3L1008.4 423.2"/><path d="M961.9 456.1L971.6 441.6L982.3 431.9L985.2 436.8L998.7 433.9"/><path d="M817.7 520L809 535.5L811 538.4L792.6 549L791.6 562.6"/><path d="M829.4 521.9L837.1 521L838.1 514.2"/><path d="M829.4 521.9L828.4 533.5"/><path d="M841.9 545.2L847.7 549L848.7 556.8"/><path d="M860.3 531.6L861.3 542.3L866.1 543.2L869 546.1L870 538.4L867.1 533.5L894.2 531.6L896.1 539.4"/><path d="M892.3 509.4L889.4 517.1L895.2 523.9L896.1 531.6"/><path d="M896.1 539.4L890.3 547.1L894.2 552.9"/><path d="M896.1 539.4L900 533.5L905.8 527.7"/><path d="M921.3 505.5L926.1 512.3L922.3 518.1L928.1 521.9L919.4 523.9L919.4 531.6"/><path d="M998.7 491L992.9 485.2L1000.6 471.6L1001.6 456.1L996.8 454.2"/><path d="M961.9 512.3L975.5 516.1L983.2 512.3L989 523.9L1003.5 522.9L1002.6 510.3L1020 512.3"/><path d="M949.4 525.8L954.2 529.7L963.9 527.7L967.7 533.5"/><path d="M989 523.9L985.2 531.6L992.9 535.5"/><path d="M965.8 549L968.7 545.2L967.7 539.4"/><path d="M1008.4 556.8L1020 552.9"/><path d="M998.7 564.5L1005.5 578.1L1010.3 570.3"/><path d="M894.2 580L894.2 572.3L903.9 570.3L905.8 565.5L901 559.7"/><path d="M821.6 564.5L829.4 568.4L838.1 566.5"/><path d="M1043.2 272.3L1052.9 270.3L1054.8 277.1L1065.5 270.3L1068.4 279L1074.2 284.8L1085.8 283.9L1093.5 281"/><path d="M1040.3 278.1L1047.1 281.9L1048.1 287.7L1054.8 289.7"/><path d="M1068.4 279L1070.3 291.6L1068.4 300.3L1066.5 311.9L1068.4 316.8"/><path d="M1047.1 297.4L1052.9 304.2L1054.8 315.8"/><path d="M1011.3 289.7L1012.3 296.5L1020 293.5L1035.5 294.5L1037.4 301.3L1047.1 304.2"/><path d="M988.1 315.8L994.8 318.7L1016.1 311.9L1023.9 310"/><path d="M1090.6 291.6L1103.2 287.7L1105.2 294.5L1092.6 299.4L1090.6 291.6"/><path d="M1011.3 323.5L1012.3 333.2L1016.1 339"/><path d="M977.4 335.2L983.2 337.1L984.2 342.9L977.4 348.7L976.5 357.4L979.4 366.1L985.2 373.9L992.9 377.7L1004.5 378.7L1016.1 373.9"/><path d="M1012.3 333.2L1018.1 342.9L1020 350.6L1031.6 355.5L1027.7 362.3L1020 368.1L1016.1 373.9"/><path d="M1045.2 346.8L1051 346.8L1054.8 339L1061.6 337.1"/><path d="M1051 346.8L1052.9 358.4L1054.8 364.2"/><path d="M1029.7 373.9L1035.5 377.7L1041.3 373.9"/><path d="M905.8 361.3L919.4 362.3L929 360.3L931.9 354.5"/><path d="M916.5 367.1L917.4 373.9L925.2 373.9L927.1 381.6"/><path d="M933.9 373.9L934.8 379.7L952.3 378.7L953.2 373.9"/><path d="M923.2 385.5L925.2 394.2L946.5 393.2L952.3 383.5"/><path d="M905.8 375.8L911.6 376.8L911.6 385.5L907.7 387.4"/><path d="M927.1 404.8L936.8 402.9"/><path d="M935.8 408.7L948.4 406.8L950.3 414.5L945.5 420.3"/><path d="M972.6 420.3L985.2 421.3L991 418.4L996.8 422.3"/><path d="M952.3 428.1L958.1 422.3L965.8 425.2"/><path d="M1103.2 366.1L1109 373.9L1107.1 375.8L1112.9 374.8"/><path d="M1070.3 344.8L1076.1 346.8L1074.2 352.6"/><path d="M760 322.6L770.3 321.9"/><path d="M779.4 320L781.3 332.9L790.3 333.5L791 327.7"/><path d="M779.4 332.9L781.3 342.6"/><path d="M772.9 347.7L779.4 347.7L781.3 352.3L767.7 354.8L768.4 371.6L763.9 372.3L765.2 384.5L763.2 385.8L763.9 400"/><path d="M788.4 347.7L790.3 355.5L793.5 358.7"/><path d="M763.9 385.8L782.6 386.5L783.9 397.4L772.9 400L771.6 402.6L762.6 403.2"/><path d="M785.8 403.9L797.4 402.6L799.4 410.3L805.2 412.3L805.8 415.5L798.7 419.4L794.8 423.2L787.7 424.5L785.2 440"/><path d="M783.9 397.4L785.8 403.9"/><path d="M800 384.5L801.3 387.1L814.2 385.8"/><path d="M800 401.3L815.5 400"/><path d="M760 413.5L765.8 403.9"/><path d="M760 433.5L775.5 432.3L776.1 429.7"/><path d="M820.6 406.5L821.3 415.5L830.3 416.1L832.3 424.5L831.6 429.7L838.7 429L841.3 432.3"/><path d="M829 387.1L845.8 385.8L847.7 392.3"/><path d="M849 371.6L852.9 372.3L851.6 376.8L855.5 378.1L858.7 389.7L863.2 389L868.4 396.1L867.7 400L874.8 399.4"/><path d="M845.8 397.4L849 400L852.9 396.1L849.7 393.5L845.8 397.4"/><path d="M831.6 429.7L840 440"/><path d="M840 331.6L846.5 331"/><path d="M859.4 331L860.6 340.6L863.2 357.4"/><path d="M867.1 320L868.4 327.7L873.5 330.3"/><path d="M863.2 334.2L867.1 335.5L872.3 333.5"/><path d="M860.6 349.7L873.5 347.7L874.2 344.5"/><path d="M889 320L889 327.7L901.9 329.7L904.5 320"/><path d="M905.8 357.4L907.1 361.3L910.3 362.6"/><path d="M883.9 381.9L895.5 380L896.8 387.1L907.1 385.8L908.4 376.8L912.9 376.1"/><path d="M905.8 387.1L912.3 392.3L920 383.2"/><path d="M884.5 381.3L885.8 393.5L892.9 402.6"/><path d="M911 411.6L920 411"/><path d="M904.5 414.2L913.5 415.5L914.8 421.9L920 423.2"/><path d="M994.2 480L995.8 483.2L1004.7 485.6L1002.3 491.3L999.8 496.1L1003.9 523.5L1015.2 521.9"/><path d="M1028.1 491.3L1029.7 496.9L1020 498.5L1020.8 508.2"/><path d="M980.5 510.6L997.4 508.2L1000.6 496.1"/><path d="M955.5 516.3L961.1 512.3L971.6 513.9L979.7 511.5L983.7 528.4L987.7 523.5L996.6 518.7L1000.6 524.4"/><path d="M987.7 523.5L991 530L1003.9 534.8L1015.2 531.6L1023.2 536.5L1026.5 539.7L1040.2 538.1L1044.2 533.2L1039.4 521.9L1044.2 517.1L1053.9 510.6L1055.5 518.7L1061.9 533.2L1068.4 543.7"/><path d="M943.4 534L951.5 530L952.3 525.2L957.1 528.4L968.4 526.8L971.6 521.9"/><path d="M1042.6 539.7L1047.4 542.9L1041.8 547.7L1033.7 552.6"/><path d="M1053.9 510.6L1071.6 504.2L1086.9 501.8L1086.1 495.3L1079.7 493.7L1078.1 489.7"/><path d="M997.4 546.9L1009.5 560.6L1007.1 570.3L1015.2 563.9L1023.2 569.5L1028.1 570.3L1029.7 578.4L1024.8 584.8L1018.4 585.6"/><path d="M965.2 547.7L968.4 555.8L971.6 560.6L976.5 570.3"/><path d="M989.4 562.3L993.4 569.5L1002.3 578.4L1007.1 570.3"/><path d="M987.7 583.2L995 586.5L993.4 591.3L985.3 592.9L981.3 596.1L968.4 584.8L974.8 576.8"/><path d="M1015.2 585.6L1018.4 591.3L1011.9 592.9L1010.3 599.4L1016.8 607.4"/><path d="M1024.8 589.7L1032.9 588.1"/><path d="M921.6 604.2L936.1 602.6L941 609L948.2 607.4"/><path d="M944.2 615.5L949 613.9L952.3 629.2"/><path d="M978.9 627.6L987.7 624.4L1000.6 613.9L1010.3 610.6"/><path d="M950 681L954.8 680.2L966.1 685L971 687.4L967.7 693.9L966.9 698.7L972.6 706.8L976.6 710L994.4 711.6L992.7 701.9L998.4 692.3L1001.6 691.5"/><path d="M968.5 720.5L985.5 716.5L986.3 724.5L992.7 727.7L995.2 735.8L1004 752.7L1015.3 753.5"/><path d="M972.6 735.8L987.9 733.4L988.7 740.6"/><path d="M986.3 756L992.7 754.4L992.3 769.7L986.3 770.5"/><path d="M994.4 781.8L1006.5 780.2L1015.3 778.5"/><path d="M1006.5 780.2L1008.1 789L1005.6 793.9L1010.5 801.9"/><path d="M1027.4 782.6L1029 798.7L1037.1 799"/><path d="M260.8 547.7L264.2 556.2L274.4 557.8L282.9 562.9L281.2 576.5L274.4 579.9L271 593.4L242.2 595.1L242.2 601.9"/><path d="M252.4 610.4L267.6 615.4L315 622.2"/><path d="M264.2 634.1L279.5 637.5L277.8 649.3"/></g><g fill="none" stroke="#888" stroke-width="3" stroke-linejoin="round" stroke-linecap="round"><path d="M86.6 160.6L92 166L97 174L100 182L106.8 187.7L115.6 186.1L122.9 187.7L128.5 191.3L139 191.3L143.9 193.7L156.8 192.9L171.3 193.4L176.1 192.9L213.2 201.3"/><path d="M213.2 201.3L214 196L215.5 189.9L219.6 171.8L223.7 153.7L227.8 135.7L231.9 117.8"/><path d="M213.2 201.3L215.6 207.4L220.5 213.9L218.9 218.7L212.9 226.3L203.2 237.9L198.4 245.6L199.4 249.5L203.2 253.4L198.4 265L199.4 262.4L199.4 262.4L195.4 279.9L191.5 297.4L187.6 314.9"/><path d="M39.6 275.7L53.1 279.7L66.5 283.7L80 287.6L93.5 291.3L107.1 295L120.6 298.6L134.2 302.1L147.8 305.5L161.4 308.8L175.1 312L188.8 315.2L202.5 318.2L216.2 321.1L229.9 323.9L243.7 326.7L257.5 329.3L271.2 331.9L285.1 334.3L298.9 336.7L312.7 338.9"/><path d="M126 300L120.6 321.2L115.1 342.3L109.6 363.5L104.2 384.7L104.2 384.7L115.1 402.5L126.2 420.3L137.6 438L149.2 455.7L161 473.3L173.1 490.8L185.4 508.3L197.9 525.7"/><path d="M197.9 525.7L200.8 508.4L201.2 496L209.3 495.2L217.6 495.3L217.8 495.4L221.8 474.4L225.8 453.5L229.9 432.5L233.9 411.6L237.9 390.7L241.9 369.7L245.9 348.8L250 327.9"/><path d="M197.9 525.7L199.6 534.9L205.3 547.9L201 551.5L192.3 566.1L184.9 582.4L182.8 590.3"/><path d="M222.5 471L237 473.8L251.5 476.4L266.1 479L280.7 481.4L295.3 483.8L309.9 486L324.6 488.1L339.2 490.2L353.9 492.1L368.6 494L383.3 495.7L398 497.4L412.7 498.9L427.4 500.4L442.1 501.7L456.9 503L471.6 504.1L486.4 505.1L501.1 506.1L515.9 506.9L530.7 507.7L545.4 508.3L560.2 508.9L575 509.3L589.8 509.6L604.6 509.9L619.4 510L634.2 510L649 510L663.8 509.8"/><path d="M472.4 504.2L471.3 518.7L470.4 518.6L468.7 540.4L467 562.2L465.3 584L463.6 605.8L461.9 627.5L460.2 649.2L460.2 649.2L445.8 648.1L431.4 646.9L417 645.6L402.6 644.2L388.2 642.7L373.8 641.2L375.3 647.8"/><path d="M312.4 653.1L315.6 629.9L318.8 606.7L322 583.5L325.2 560.3L328.4 537L331.6 513.7L334.8 490.4L338.1 467.2L341.3 443.9L344.5 420.6L347.7 397.3L350.9 374.1"/><path d="M308.1 367.7L311.8 344.7L315.5 321.7L319.1 298.7L322.8 275.8L326.5 253"/><path d="M308.1 367.7L321.9 369.8L335.6 371.9L349.4 373.8L363.2 375.7L376.9 377.5L390.7 379.2L404.6 380.7L418.4 382.2L432.2 383.6L446.1 384.9L459.9 386.2L473.8 387.3L487.6 388.3L501.5 389.2"/><path d="M250.3 121.8L243 150L246.3 161.3L247 166.3L251.3 170L255 176.3L258.8 185.5L263.8 192.5L270 194.5L266.3 200L263.8 210L262.5 216.3L259.5 218.8L260.5 223.8L258 225L262.5 228L267.5 225L270.5 222L273.8 226.3L275 235L277.5 245L278.8 250L283 251.3L284.5 260L287.5 264.5L290 262.5L300 261.3L307.5 263.8L315 263.3L317 259.5L320 260L322.5 267.5L324 268.1"/><path d="M326.5 253L340.6 255.2L354.7 257.3L368.8 259.2L383 261.1L397.2 262.9L411.3 264.6L425.5 266.2L439.7 267.6L454 269L468.2 270.3"/><path d="M477.9 155.7L476 178.5L474 201.3L472.1 224.2L470.1 247.2L468.2 270.3L466.2 293.3L464.3 316.5L462.3 339.6L460.3 362.8L458.4 386"/><path d="M470.5 243.2L483 244.2L495.5 245.2L508 246L520.6 246.8L533.1 247.5L545.7 248.1L558.2 248.6L570.8 249.1L583.3 249.4L595.9 249.7L608.4 249.9L621 250"/><path d="M463.3 328L476.2 329.1L489.1 330.1L502 331L515 331.8L527.9 332.5L540.9 333.1L553.8 333.7L566.8 334.1L579.7 334.5L592.2 339.2L602.8 338.8L611.1 342.4L622.7 349.7"/><path d="M501.5 389.2L500 412.5L498.6 435.8L497.2 459.1L495.7 482.4L494.3 505.7"/><path d="M499.6 418.3L514.4 419.2L529.2 420L544 420.7L558.8 421.2L573.6 421.7L588.4 422.1L603.2 422.3L618 422.5L632.8 422.5L647.6 422.5"/><path d="M471.3 518.7L488.5 519.9L505.8 521L523 521.9L540.2 522.7L540.2 522.7L539.4 541.5L538.6 560.4L537.9 579.2L537.5 580L548.1 585.8L555.1 584.8L557.1 589.8L566.2 593.8L576.3 592.8L583.3 597.9L588.4 601.9L594.4 599.9L602.5 602.9L605.5 605.9L609.6 600.9L616.6 602.9L624.7 606.9L632.7 601.9L640.8 602.9L650.9 599.9L661 605.9L671 611L679.1 611L680.1 625.1L679.1 610.1L679.4 625.1L679.7 640.1L680 655.1L686.1 666.6L691.3 678.1L691.7 692.6L688.3 704.2L689.2 711.5L686.2 721.7"/><path d="M679.4 625.5L693.2 625.3L707 625L720.9 624.6L734.7 624.2L748.5 623.6"/><path d="M668.4 607.7L668.9 556.7L664 524.4L663.8 509.8L663.1 448.6"/><path d="M663.1 448.6L656.6 439.9L656.4 429.7L647.6 422.5L641 413.8L637.7 405L635 393.4L634 386.1L630.1 370.1L624.8 358.4L623.8 350"/><path d="M622.7 350L619.6 341L622.8 332.3L620.8 320.7L622.8 320.7L623.1 268.5L615 259.8L621 250L620.2 239.6L616.8 223.2L615.5 205.1L612.1 192.7L610.4 176.4L608.6 162.1"/><path d="M622.8 320.7L636.5 320.7L650.1 320.6L663.8 320.4L677.4 320.2L691 319.8L704.6 319.4L718.3 318.8L731.9 318.2"/><path d="M637.2 405.6L651.9 405.4L666.5 405.2L681.2 404.8L695.8 404.3L710.4 403.7L725.1 403L732.1 409.1"/><path d="M664 524.4L681.1 524.1L698.2 523.6L715.4 523.1L732.5 522.3L749.6 521.5L766.7 520.5L762.3 535.4L778 534.4"/><path d="M711.3 225.2L707.4 230L707.4 244.5L701.6 248.4L695.8 254.2L695.8 258.1L700.6 262.9L697.7 271.6L698.7 283.2L707.4 289L717.1 294.8L719 298.7L728.7 304.5L731.6 312.3L731.9 318.2L734 331.2L736.6 339.8L745.4 346.5L756.3 357.6L756.2 366.3L749.2 375.5L738.6 379L741.2 387.6L738.4 396.5L732.5 408.5L732.5 421.6L734.6 428.8L743.9 437.1L750 448.4L761.4 451.6L762.2 458.5L759.2 471.3L771 479.3L780 496.2L788.6 504.4L786 516.3L781.6 519.5L778 534.4L774.1 546.3L771 559.7L765.9 564.4L760.4 579.3L751 594.4L748.1 606.2L749.6 611.9L748.5 623.6L752 635.1L756 642.1L749.4 655.6L745 665.7L740.1 682.2L786.9 679.5L785.1 689.8L793.5 702.9"/><path d="M743.2 228.1L747.1 231L750 234.8L767.4 238.7L775.2 240.6L782.9 241.6L791.6 243.5L794.5 247.4L798.4 250.3L800.3 260L803.2 261L802.3 263.9L805.7 267.2"/><path d="M745.4 346.5L765.5 345.3L785.5 343.9L805.6 342.3"/><path d="M813.2 363.2L815.3 386.5L817.3 409.8L819.4 433.1L819.9 443.4L818.7 420L820 439.4L823.2 447.7L818.7 458.7L812.9 466.5L812.3 474.2"/><path d="M788.6 504.4L787.7 518.1L789.7 503.9L792.9 498.7L803.9 497.4L805.8 493.5L812.3 487.1L811 481.9L812.3 474.2L816.8 474.2L822.6 476.8L827.7 472.9L834.2 476.8L840.6 474.2L847.1 469L850.3 465.2L857.4 469L863.9 463.9L869 457.4L870.3 448.4L872.9 445.8L878.7 434.8L894.2 440.6L903.9 443.5L913.5 444.5L919.4 441.6L924.2 439.7L929 444.5L933.9 448.4L936.8 438.7L942.6 434.8L940.6 429L946.5 425.2L950.3 419.4L959 413.5L965.8 403.9L967.7 400L964.3 406.3L965.6 393.9L966.2 383.8L967.2 376.5"/><path d="M961 338.9L964.5 360.3L968 381.6L971.5 403"/><path d="M971.5 403L988.7 400.1L1005.7 397.1L1022.8 393.9L1039.9 390.6L1056.9 387.2L1073.8 383.6"/><path d="M975.4 327L976.7 334.8L976.7 334.8L992.1 332.1L1007.5 329.2L1022.9 326.3L1038.2 323.2L1053.5 320L1068.8 316.7L1073.1 320.2L1077.8 326.6L1086.9 331.7"/><path d="M1086.9 331.7L1079.9 344L1080.3 352.9L1085.4 360.7L1093.4 366.4L1088 372.1L1081.3 379.6L1080.4 388.7"/><path d="M1086.9 331.7L1105.8 338.1L1105.3 347.2"/><path d="M1111.1 336.8L1108.7 334.4L1113.3 330.3L1107.3 306.3L1107 285.4L1101.6 261.3L1095.8 250.8L1093.4 236.5L1090 222.4"/><path d="M1126.5 212.9L1126.4 220.7L1127 231L1122.2 241.2L1120.4 255.1L1121.5 271.3L1123.7 281.9"/><path d="M1107 285.4L1117.2 283.3L1127.3 281.1L1137.5 278.9L1147.6 276.6L1150 272.9L1156.1 269.2"/><path d="M1107.3 306.3L1119 303.7L1130.7 301.1L1142.4 298.4L1151.2 296.4L1152 299.5L1154.9 303.8L1160.3 309.3"/><path d="M1142.7 298.6L1146.3 318.4"/><path d="M1157 262.9L1151.2 257.6L1147.8 250.4L1132.6 202.6"/><path d="M1073.8 383.6L1077.6 379.2L1081.3 379.6"/><path d="M1073.8 383.6L1083.6 419.1L1097.9 416.2"/><path d="M1055.7 428.2L1048.8 428.1L1049.6 420.5L1052.4 415.5L1046.5 410.7L1039.8 407.6L1034.2 403.6L1032 400.2L1030.1 396.1L1021.9 394.7L1017.3 400L1010.1 398.4L1004.8 405.3L996.5 414.1L994.1 399.2"/><path d="M1034.2 403.6L1033.1 409.5L1020 402.2L1020 419.4L1010.3 425.2L1005.5 435.8L998.7 433.9L995.8 448.4L991 456.1L990 464.8L983.2 469.7L977.4 473.5L971.6 476.5L961.9 479.4L954.2 477.4L950.3 472.6"/><path d="M950.3 472.6L940.6 465.8L934.8 456.1L933.9 448.4"/><path d="M950.3 472.6L942.6 481.3L934.8 488.1L928.1 494.8L921.3 501.6"/><path d="M960 497.3L944.9 499.4L929.7 501.5L914.5 503.4L914.5 503.4L897.8 505.3L881.1 507L864.3 508.6L847.6 510.1L830.8 511.4L814.1 512.7L814.4 517L814.4 517L798.1 518.3L781.6 519.5"/><path d="M960 497.3L976.5 494.8L993 492.3L1009.5 489.6L1026 486.8L1042.4 483.9L1058.8 480.8L1075.2 477.7L1091.6 474.3"/><path d="M960 497.3L956.3 506.4L945.7 513.8L941.7 518.8L931 525.6L922.6 532.9L911.4 537.6L909.8 543.7L905.6 551.8"/><path d="M933.8 547.9L917 550.1L900.3 552.2L883.5 554.2L866.8 556L850 557.7L833.2 559.3L816.4 560.7L799.6 562.1L782.7 563.3L765.9 564.4"/><path d="M933.8 547.9L940.6 544.3L949.4 539.8L980.8 535.6L981.4 539.4L983.9 537.5L988.2 545.1L1014.3 541.3L1045.5 563.8"/><path d="M933.8 547.9L929.3 557.3L937.1 562.1L943.1 565.7L950.9 574.9L966.7 587.3L980 600L989.4 613.2L998.6 625"/><path d="M991.4 665.8L978.9 666.2L978.2 678L973.5 672.3L973.5 672.3L957.1 673.7L940.6 675L924.1 676.1L907.6 677.2L903.2 668.9L903.2 668.9L887.2 670.7L871.3 672.4L855.3 674L839.3 675.5L839 679.9L844.8 689.5L844.9 695.3"/><path d="M903.2 668.9L900.3 654.7L898.6 640.3L898.8 627.1L892.6 615.5L875.8 555.6"/><path d="M815.1 560.9L817.7 563.9L815.9 639.6L818.9 677.2L821.5 699.7"/><path d="M828.3 361.8L842.6 360.3L856.9 358.8L871.3 357.2L871.5 358.9L871.5 358.9L885.8 356.7L900 354.4"/><path d="M871.5 358.9L874.3 384L877.1 409.1L879.9 434.2"/></g></g><g class="dots"><circle cx="128.5" cy="97.4" r="6" fill="#18a1cd"/><circle cx="127.2" cy="97.7" r="6" fill="#18a1cd"/><circle cx="121.3" cy="109" r="6" fill="#18a1cd"/><circle cx="126.1" cy="106.6" r="6" fill="#18a1cd"/><circle cx="127.7" cy="120" r="6" fill="#18a1cd"/><circle cx="123.7" cy="122.7" r="6" fill="#18a1cd"/><circle cx="126.1" cy="130" r="6" fill="#18a1cd"/><circle cx="124.8" cy="130.3" r="6" fill="#18a1cd"/><circle cx="119.7" cy="132.4" r="6" fill="#18a1cd"/><circle cx="120.5" cy="138.9" r="6" fill="#18a1cd"/><circle cx="119.2" cy="139.2" r="6" fill="#18a1cd"/><circle cx="121.2" cy="137.8" r="6" fill="#18a1cd"/><circle cx="117.3" cy="140.5" r="6" fill="#18a1cd"/><circle cx="119.7" cy="144.5" r="6" fill="#18a1cd"/><circle cx="102.4" cy="154.2" r="6" fill="#18a1cd"/><circle cx="97.9" cy="168.4" r="6" fill="#2e9a4a"/><circle cx="96.6" cy="168.7" r="6" fill="#2e9a4a"/><circle cx="99.5" cy="175.2" r="6" fill="#fa8c00"/><circle cx="100.3" cy="176.8" r="6" fill="#2e9a4a"/><circle cx="105.2" cy="180" r="6" fill="#18a1cd"/><circle cx="98.7" cy="185.6" r="6" fill="#18a1cd"/><circle cx="97" cy="186" r="6" fill="#18a1cd"/><circle cx="99.7" cy="184.1" r="6" fill="#18a1cd"/><circle cx="99" cy="187.4" r="6" fill="#18a1cd"/><circle cx="97" cy="188" r="6" fill="#18a1cd"/><circle cx="95.7" cy="188.3" r="6" fill="#18a1cd"/><circle cx="96.3" cy="195.3" r="6" fill="#18a1cd"/><circle cx="92.3" cy="196.1" r="6" fill="#18a1cd"/><circle cx="85" cy="201" r="6" fill="#18a1cd"/><circle cx="83.7" cy="201.3" r="6" fill="#18a1cd"/><circle cx="88.2" cy="199.4" r="6" fill="#18a1cd"/><circle cx="82.1" cy="211" r="6" fill="#18a1cd"/><circle cx="76.9" cy="223.2" r="6" fill="#18a1cd"/><circle cx="148.7" cy="169" r="6" fill="#18a1cd"/><circle cx="156.8" cy="178.4" r="6" fill="#18a1cd"/><circle cx="216.8" cy="144.5" r="6" fill="#18a1cd"/><circle cx="213.2" cy="152.9" r="6" fill="#18a1cd"/><circle cx="211.9" cy="153.2" r="6" fill="#18a1cd"/><circle cx="217.3" cy="151.8" r="6" fill="#18a1cd"/><circle cx="216" cy="152.1" r="6" fill="#18a1cd"/><circle cx="224.5" cy="152.9" r="6" fill="#18a1cd"/><circle cx="39.2" cy="382.4" r="6" fill="#18a1cd"/><circle cx="37.9" cy="382.7" r="6" fill="#18a1cd"/><circle cx="62.9" cy="383.2" r="6" fill="#18a1cd"/><circle cx="61.6" cy="383.5" r="6" fill="#18a1cd"/><circle cx="74.2" cy="383.2" r="6" fill="#18a1cd"/><circle cx="48.4" cy="392.1" r="6" fill="#18a1cd"/><circle cx="67.7" cy="394.5" r="6" fill="#fa8c00"/><circle cx="69.4" cy="392.1" r="6" fill="#2e9a4a"/><circle cx="68.1" cy="392.4" r="6" fill="#2e9a4a"/><circle cx="70.2" cy="390.5" r="6" fill="#18a1cd"/><circle cx="43.5" cy="400.2" r="6" fill="#18a1cd"/><circle cx="42.2" cy="400.5" r="6" fill="#18a1cd"/><circle cx="50" cy="398.5" r="6" fill="#18a1cd"/><circle cx="48.7" cy="398.8" r="6" fill="#18a1cd"/><circle cx="40.3" cy="407.4" r="6" fill="#18a1cd"/><circle cx="48.4" cy="410.6" r="6" fill="#18a1cd"/><circle cx="47.1" cy="410.9" r="6" fill="#18a1cd"/><circle cx="49.1" cy="409.5" r="6" fill="#18a1cd"/><circle cx="56.5" cy="411.5" r="6" fill="#18a1cd"/><circle cx="54" cy="412.3" r="6" fill="#18a1cd"/><circle cx="67.7" cy="408.2" r="6" fill="#2e9a4a"/><circle cx="66.4" cy="408.5" r="6" fill="#2e9a4a"/><circle cx="68.4" cy="407.1" r="6" fill="#2e9a4a"/><circle cx="70.2" cy="407.4" r="6" fill="#fa8c00"/><circle cx="64.5" cy="416.3" r="6" fill="#fa8c00"/><circle cx="68.5" cy="416.3" r="6" fill="#2e9a4a"/><circle cx="72.9" cy="418.7" r="6" fill="#18a1cd"/><circle cx="48.4" cy="419.5" r="6" fill="#2e9a4a"/><circle cx="47.1" cy="419.8" r="6" fill="#2e9a4a"/><circle cx="50" cy="421.1" r="6" fill="#18a1cd"/><circle cx="111.3" cy="370.3" r="6" fill="#18a1cd"/><circle cx="112.9" cy="371.5" r="6" fill="#2e9a4a"/><circle cx="111.6" cy="371.8" r="6" fill="#2e9a4a"/><circle cx="112.9" cy="374" r="6" fill="#fa8c00"/><circle cx="119.4" cy="372.7" r="6" fill="#18a1cd"/><circle cx="130.6" cy="377.3" r="6" fill="#18a1cd"/><circle cx="91.9" cy="451" r="6" fill="#2e9a4a"/><circle cx="90.6" cy="451.3" r="6" fill="#2e9a4a"/><circle cx="92.7" cy="455.8" r="6" fill="#18a1cd"/><circle cx="97.6" cy="453.4" r="6" fill="#18a1cd"/><circle cx="62.6" cy="476.8" r="6" fill="#18a1cd"/><circle cx="129" cy="474.7" r="6" fill="#18a1cd"/><circle cx="31" cy="308" r="6" fill="#18a1cd"/><circle cx="202.5" cy="271" r="6" fill="#18a1cd"/><circle cx="206" cy="269" r="6" fill="#18a1cd"/><circle cx="205.7" cy="354.5" r="6" fill="#18a1cd"/><circle cx="278.8" cy="149.5" r="6" fill="#18a1cd"/><circle cx="263" cy="168.8" r="6" fill="#18a1cd"/><circle cx="275.5" cy="187.5" r="6" fill="#18a1cd"/><circle cx="274.2" cy="187.8" r="6" fill="#18a1cd"/><circle cx="273.5" cy="199.5" r="6" fill="#18a1cd"/><circle cx="333.8" cy="180" r="6" fill="#18a1cd"/><circle cx="332.5" cy="180.3" r="6" fill="#18a1cd"/><circle cx="370" cy="201.3" r="6" fill="#18a1cd"/><circle cx="301.5" cy="219.3" r="6" fill="#18a1cd"/><circle cx="327.3" cy="227" r="6" fill="#18a1cd"/><circle cx="379.3" cy="238.5" r="6" fill="#18a1cd"/><circle cx="378" cy="238.8" r="6" fill="#18a1cd"/><circle cx="383" cy="236.8" r="6" fill="#18a1cd"/><circle cx="228" cy="208.8" r="6" fill="#18a1cd"/><circle cx="300.5" cy="290.8" r="6" fill="#18a1cd"/><circle cx="299.2" cy="291.1" r="6" fill="#18a1cd"/><circle cx="299.5" cy="293" r="6" fill="#18a1cd"/><circle cx="287" cy="307.5" r="6" fill="#18a1cd"/><circle cx="285.7" cy="307.8" r="6" fill="#18a1cd"/><circle cx="242" cy="313" r="6" fill="#18a1cd"/><circle cx="436.3" cy="287" r="6" fill="#18a1cd"/><circle cx="435" cy="287.3" r="6" fill="#18a1cd"/><circle cx="482" cy="298" r="6" fill="#18a1cd"/><circle cx="413" cy="327" r="6" fill="#18a1cd"/><circle cx="295.4" cy="333.2" r="6" fill="#18a1cd"/><circle cx="285" cy="343.5" r="6" fill="#18a1cd"/><circle cx="294.8" cy="344" r="6" fill="#18a1cd"/><circle cx="293.5" cy="344.3" r="6" fill="#18a1cd"/><circle cx="288.6" cy="348.8" r="6" fill="#2e9a4a"/><circle cx="288.9" cy="357.3" r="6" fill="#18a1cd"/><circle cx="287.6" cy="357.6" r="6" fill="#18a1cd"/><circle cx="289.6" cy="356.2" r="6" fill="#18a1cd"/><circle cx="290.5" cy="367.4" r="6" fill="#18a1cd"/><circle cx="287.1" cy="372" r="6" fill="#18a1cd"/><circle cx="285.8" cy="372.3" r="6" fill="#18a1cd"/><circle cx="287.8" cy="370.9" r="6" fill="#18a1cd"/><circle cx="285.5" cy="371.5" r="6" fill="#fa8c00"/><circle cx="288" cy="373" r="6" fill="#2e9a4a"/><circle cx="286.7" cy="373.3" r="6" fill="#2e9a4a"/><circle cx="274.8" cy="374.4" r="6" fill="#18a1cd"/><circle cx="277.4" cy="376.5" r="6" fill="#18a1cd"/><circle cx="276.1" cy="376.8" r="6" fill="#18a1cd"/><circle cx="283.4" cy="377.5" r="6" fill="#18a1cd"/><circle cx="282.1" cy="377.8" r="6" fill="#18a1cd"/><circle cx="290.1" cy="384.5" r="6" fill="#18a1cd"/><circle cx="288.8" cy="384.8" r="6" fill="#18a1cd"/><circle cx="290.5" cy="385.5" r="6" fill="#2e9a4a"/><circle cx="290.5" cy="393" r="6" fill="#fa8c00"/><circle cx="289.9" cy="409.1" r="6" fill="#18a1cd"/><circle cx="442.1" cy="381.1" r="6" fill="#18a1cd"/><circle cx="436" cy="395" r="6" fill="#18a1cd"/><circle cx="434.7" cy="395.3" r="6" fill="#18a1cd"/><circle cx="446.1" cy="394.6" r="6" fill="#18a1cd"/><circle cx="439.7" cy="400.6" r="6" fill="#18a1cd"/><circle cx="438.4" cy="400.9" r="6" fill="#18a1cd"/><circle cx="443.7" cy="403.1" r="6" fill="#18a1cd"/><circle cx="437.7" cy="420.2" r="6" fill="#18a1cd"/><circle cx="435.9" cy="420.6" r="6" fill="#18a1cd"/><circle cx="438.7" cy="418.7" r="6" fill="#18a1cd"/><circle cx="438" cy="422" r="6" fill="#18a1cd"/><circle cx="436.3" cy="419.1" r="6" fill="#18a1cd"/><circle cx="439.5" cy="421.5" r="6" fill="#2e9a4a"/><circle cx="438.2" cy="421.8" r="6" fill="#2e9a4a"/><circle cx="434" cy="419" r="6" fill="#18a1cd"/><circle cx="432.6" cy="428.9" r="6" fill="#18a1cd"/><circle cx="436" cy="446.4" r="6" fill="#18a1cd"/><circle cx="440.7" cy="465.2" r="6" fill="#18a1cd"/><circle cx="439.4" cy="465.5" r="6" fill="#18a1cd"/><circle cx="442.7" cy="464.2" r="6" fill="#18a1cd"/><circle cx="431" cy="474.6" r="6" fill="#18a1cd"/><circle cx="353.8" cy="431.9" r="6" fill="#18a1cd"/><circle cx="365.1" cy="447.4" r="6" fill="#18a1cd"/><circle cx="388.5" cy="427.5" r="6" fill="#18a1cd"/><circle cx="353.8" cy="501" r="6" fill="#18a1cd"/><circle cx="247.3" cy="454.7" r="6" fill="#18a1cd"/><circle cx="235.6" cy="470.8" r="6" fill="#18a1cd"/><circle cx="234.3" cy="471.1" r="6" fill="#18a1cd"/><circle cx="239.7" cy="468.8" r="6" fill="#18a1cd"/><circle cx="245.3" cy="476.9" r="6" fill="#18a1cd"/><circle cx="99.5" cy="493.8" r="6" fill="#18a1cd"/><circle cx="98.2" cy="494.1" r="6" fill="#18a1cd"/><circle cx="114.5" cy="519" r="6" fill="#18a1cd"/><circle cx="106.3" cy="540" r="6" fill="#2e9a4a"/><circle cx="105" cy="540.3" r="6" fill="#2e9a4a"/><circle cx="105" cy="542.5" r="6" fill="#fa8c00"/><circle cx="112.5" cy="536.3" r="6" fill="#18a1cd"/><circle cx="111.2" cy="536.6" r="6" fill="#18a1cd"/><circle cx="115" cy="543.8" r="6" fill="#18a1cd"/><circle cx="113.7" cy="544.1" r="6" fill="#18a1cd"/><circle cx="115.7" cy="542.7" r="6" fill="#18a1cd"/><circle cx="126.3" cy="540" r="6" fill="#18a1cd"/><circle cx="125" cy="540.3" r="6" fill="#18a1cd"/><circle cx="126.8" cy="540.5" r="6" fill="#2e9a4a"/><circle cx="125.5" cy="540.8" r="6" fill="#2e9a4a"/><circle cx="125" cy="542" r="6" fill="#fa8c00"/><circle cx="130" cy="536.3" r="6" fill="#18a1cd"/><circle cx="127.5" cy="550" r="6" fill="#18a1cd"/><circle cx="117.5" cy="555" r="6" fill="#18a1cd"/><circle cx="116" cy="548" r="6" fill="#18a1cd"/><circle cx="156.3" cy="555" r="6" fill="#18a1cd"/><circle cx="152.5" cy="560.8" r="6" fill="#18a1cd"/><circle cx="130.5" cy="575" r="6" fill="#18a1cd"/><circle cx="127.5" cy="580" r="6" fill="#18a1cd"/><circle cx="126.2" cy="580.3" r="6" fill="#18a1cd"/><circle cx="128.2" cy="578.9" r="6" fill="#18a1cd"/><circle cx="127" cy="585" r="6" fill="#18a1cd"/><circle cx="163.3" cy="585" r="6" fill="#18a1cd"/><circle cx="192.5" cy="488.8" r="6" fill="#2e9a4a"/><circle cx="191.2" cy="489.1" r="6" fill="#2e9a4a"/><circle cx="192.5" cy="487.5" r="6" fill="#fa8c00"/><circle cx="188.8" cy="493.8" r="6" fill="#18a1cd"/><circle cx="195" cy="494.5" r="6" fill="#18a1cd"/><circle cx="193.7" cy="494.8" r="6" fill="#18a1cd"/><circle cx="233.8" cy="563.8" r="6" fill="#18a1cd"/><circle cx="235" cy="581.3" r="6" fill="#18a1cd"/><circle cx="247.5" cy="582.5" r="6" fill="#18a1cd"/><circle cx="245" cy="583.1" r="6" fill="#18a1cd"/><circle cx="248.9" cy="580.3" r="6" fill="#18a1cd"/><circle cx="247.9" cy="585.1" r="6" fill="#18a1cd"/><circle cx="245.5" cy="580.9" r="6" fill="#18a1cd"/><circle cx="250.1" cy="582.3" r="6" fill="#18a1cd"/><circle cx="242.5" cy="576.3" r="6" fill="#18a1cd"/><circle cx="241.2" cy="576.6" r="6" fill="#18a1cd"/><circle cx="250" cy="575" r="6" fill="#18a1cd"/><circle cx="255" cy="585" r="6" fill="#18a1cd"/><circle cx="253.7" cy="585.3" r="6" fill="#18a1cd"/><circle cx="255.7" cy="583.9" r="6" fill="#18a1cd"/><circle cx="245" cy="587.5" r="6" fill="#18a1cd"/><circle cx="243.7" cy="587.8" r="6" fill="#18a1cd"/><circle cx="257.5" cy="582.5" r="6" fill="#18a1cd"/><circle cx="257" cy="603.8" r="6" fill="#18a1cd"/><circle cx="267.5" cy="618.8" r="6" fill="#18a1cd"/><circle cx="270" cy="624.3" r="6" fill="#18a1cd"/><circle cx="268.7" cy="624.6" r="6" fill="#18a1cd"/><circle cx="270.7" cy="623.2" r="6" fill="#18a1cd"/><circle cx="386.3" cy="546.3" r="6" fill="#18a1cd"/><circle cx="383" cy="553" r="6" fill="#18a1cd"/><circle cx="381.7" cy="553.3" r="6" fill="#18a1cd"/><circle cx="383.7" cy="551.9" r="6" fill="#18a1cd"/><circle cx="463.8" cy="580.8" r="6" fill="#18a1cd"/><circle cx="495" cy="561.8" r="6" fill="#18a1cd"/><circle cx="492" cy="606.3" r="6" fill="#18a1cd"/><circle cx="490.5" cy="607.5" r="6" fill="#18a1cd"/><circle cx="375" cy="648" r="6" fill="#18a1cd"/><circle cx="373.7" cy="648.3" r="6" fill="#18a1cd"/><circle cx="382.5" cy="649.3" r="6" fill="#18a1cd"/><circle cx="381.2" cy="649.6" r="6" fill="#18a1cd"/><circle cx="483.8" cy="652.5" r="6" fill="#18a1cd"/><circle cx="523.3" cy="669.3" r="6" fill="#18a1cd"/><circle cx="542.5" cy="642.5" r="6" fill="#18a1cd"/><circle cx="557" cy="662" r="6" fill="#18a1cd"/><circle cx="589.5" cy="528.3" r="6" fill="#fa8c00"/><circle cx="601.3" cy="491.3" r="6" fill="#18a1cd"/><circle cx="600" cy="491.6" r="6" fill="#18a1cd"/><circle cx="602" cy="490.2" r="6" fill="#18a1cd"/><circle cx="596.8" cy="555" r="6" fill="#18a1cd"/><circle cx="608.8" cy="558.8" r="6" fill="#18a1cd"/><circle cx="576.3" cy="580" r="6" fill="#18a1cd"/><circle cx="580.5" cy="665" r="6" fill="#18a1cd"/><circle cx="591.3" cy="682.5" r="6" fill="#18a1cd"/><circle cx="603.8" cy="671.3" r="6" fill="#18a1cd"/><circle cx="602.5" cy="671.6" r="6" fill="#18a1cd"/><circle cx="644.8" cy="252" r="6" fill="#18a1cd"/><circle cx="643.5" cy="252.3" r="6" fill="#18a1cd"/><circle cx="653.9" cy="255.6" r="6" fill="#18a1cd"/><circle cx="668.6" cy="261.1" r="6" fill="#18a1cd"/><circle cx="651.9" cy="273.8" r="6" fill="#18a1cd"/><circle cx="650.6" cy="274.1" r="6" fill="#18a1cd"/><circle cx="629.3" cy="287.7" r="6" fill="#18a1cd"/><circle cx="636.4" cy="292.9" r="6" fill="#18a1cd"/><circle cx="674.7" cy="300.4" r="6" fill="#18a1cd"/><circle cx="689.2" cy="315.5" r="6" fill="#18a1cd"/><circle cx="688.6" cy="264.5" r="6" fill="#18a1cd"/><circle cx="699.3" cy="268.5" r="6" fill="#18a1cd"/><circle cx="680.1" cy="276.2" r="6" fill="#18a1cd"/><circle cx="683.1" cy="282.3" r="6" fill="#18a1cd"/><circle cx="681.8" cy="282.6" r="6" fill="#18a1cd"/><circle cx="690.2" cy="279.2" r="6" fill="#18a1cd"/><circle cx="688.9" cy="279.5" r="6" fill="#18a1cd"/><circle cx="690.8" cy="276.2" r="6" fill="#2e9a4a"/><circle cx="694.2" cy="253" r="6" fill="#18a1cd"/><circle cx="714" cy="257.7" r="6" fill="#18a1cd"/><circle cx="720" cy="275.2" r="6" fill="#18a1cd"/><circle cx="725.9" cy="278.8" r="6" fill="#18a1cd"/><circle cx="724.6" cy="279.1" r="6" fill="#18a1cd"/><circle cx="736.2" cy="291.9" r="6" fill="#18a1cd"/><circle cx="731.5" cy="309.5" r="6" fill="#18a1cd"/><circle cx="730.2" cy="309.8" r="6" fill="#18a1cd"/><circle cx="732.2" cy="308.4" r="6" fill="#18a1cd"/><circle cx="729.9" cy="319.6" r="6" fill="#18a1cd"/><circle cx="728.6" cy="319.9" r="6" fill="#18a1cd"/><circle cx="760.2" cy="259.7" r="6" fill="#18a1cd"/><circle cx="759.8" cy="247.3" r="6" fill="#18a1cd"/><circle cx="762.8" cy="274.8" r="6" fill="#18a1cd"/><circle cx="761.5" cy="275.1" r="6" fill="#18a1cd"/><circle cx="776.5" cy="290.9" r="6" fill="#18a1cd"/><circle cx="764.4" cy="323.2" r="6" fill="#18a1cd"/><circle cx="775.9" cy="332.3" r="6" fill="#18a1cd"/><circle cx="617.8" cy="319.8" r="6" fill="#18a1cd"/><circle cx="601.9" cy="337.7" r="6" fill="#18a1cd"/><circle cx="616.6" cy="350.8" r="6" fill="#18a1cd"/><circle cx="624.7" cy="350.2" r="6" fill="#18a1cd"/><circle cx="623.4" cy="350.5" r="6" fill="#18a1cd"/><circle cx="604.1" cy="361.9" r="6" fill="#2e9a4a"/><circle cx="598.5" cy="366.9" r="6" fill="#2e9a4a"/><circle cx="605.1" cy="381" r="6" fill="#18a1cd"/><circle cx="580.7" cy="394.8" r="6" fill="#18a1cd"/><circle cx="579.4" cy="395.1" r="6" fill="#18a1cd"/><circle cx="580.7" cy="405.8" r="6" fill="#18a1cd"/><circle cx="617.6" cy="399.2" r="6" fill="#18a1cd"/><circle cx="616.3" cy="399.5" r="6" fill="#18a1cd"/><circle cx="618.3" cy="398.1" r="6" fill="#18a1cd"/><circle cx="628.7" cy="377.4" r="6" fill="#18a1cd"/><circle cx="634.4" cy="385.7" r="6" fill="#18a1cd"/><circle cx="632.6" cy="386.1" r="6" fill="#18a1cd"/><circle cx="635.4" cy="384.2" r="6" fill="#18a1cd"/><circle cx="634.7" cy="387.5" r="6" fill="#18a1cd"/><circle cx="630.3" cy="389.1" r="6" fill="#18a1cd"/><circle cx="644" cy="372.4" r="6" fill="#18a1cd"/><circle cx="654.1" cy="382.1" r="6" fill="#18a1cd"/><circle cx="676.1" cy="383.1" r="6" fill="#18a1cd"/><circle cx="690.8" cy="391.7" r="6" fill="#18a1cd"/><circle cx="701.9" cy="391.7" r="6" fill="#18a1cd"/><circle cx="720" cy="348.8" r="6" fill="#18a1cd"/><circle cx="722.9" cy="353.8" r="6" fill="#18a1cd"/><circle cx="721.6" cy="354.1" r="6" fill="#18a1cd"/><circle cx="726.5" cy="362.9" r="6" fill="#18a1cd"/><circle cx="725.2" cy="363.2" r="6" fill="#18a1cd"/><circle cx="724.5" cy="364.9" r="6" fill="#18a1cd"/><circle cx="742.6" cy="348.2" r="6" fill="#18a1cd"/><circle cx="741.3" cy="348.5" r="6" fill="#18a1cd"/><circle cx="737.2" cy="368.3" r="6" fill="#18a1cd"/><circle cx="749.7" cy="375.4" r="6" fill="#18a1cd"/><circle cx="748.4" cy="375.7" r="6" fill="#18a1cd"/><circle cx="751.7" cy="376.6" r="6" fill="#18a1cd"/><circle cx="762.4" cy="366.5" r="6" fill="#18a1cd"/><circle cx="734" cy="422.8" r="6" fill="#18a1cd"/><circle cx="772.3" cy="424.4" r="6" fill="#18a1cd"/><circle cx="687.2" cy="428.4" r="6" fill="#18a1cd"/><circle cx="655.9" cy="430" r="6" fill="#18a1cd"/><circle cx="620.2" cy="447.2" r="6" fill="#fa8c00"/><circle cx="596.5" cy="458.3" r="6" fill="#18a1cd"/><circle cx="595.2" cy="458.6" r="6" fill="#18a1cd"/><circle cx="639.4" cy="449.6" r="6" fill="#18a1cd"/><circle cx="655.9" cy="450.2" r="6" fill="#18a1cd"/><circle cx="664" cy="449.2" r="6" fill="#18a1cd"/><circle cx="662.7" cy="449.5" r="6" fill="#18a1cd"/><circle cx="664.7" cy="448.1" r="6" fill="#18a1cd"/><circle cx="664.5" cy="448.5" r="6" fill="#2e9a4a"/><circle cx="663" cy="448" r="6" fill="#fa8c00"/><circle cx="669" cy="452.3" r="6" fill="#18a1cd"/><circle cx="667.7" cy="452.6" r="6" fill="#18a1cd"/><circle cx="657" cy="457.3" r="6" fill="#fa8c00"/><circle cx="658" cy="456.3" r="6" fill="#2e9a4a"/><circle cx="649.5" cy="462.9" r="6" fill="#18a1cd"/><circle cx="657.9" cy="465.4" r="6" fill="#18a1cd"/><circle cx="702.9" cy="444.6" r="6" fill="#18a1cd"/><circle cx="719.4" cy="451.9" r="6" fill="#18a1cd"/><circle cx="718.1" cy="452.2" r="6" fill="#18a1cd"/><circle cx="718.4" cy="462.9" r="6" fill="#18a1cd"/><circle cx="695.8" cy="459.7" r="6" fill="#18a1cd"/><circle cx="761.8" cy="456.3" r="6" fill="#18a1cd"/><circle cx="760" cy="456.7" r="6" fill="#18a1cd"/><circle cx="762.8" cy="454.8" r="6" fill="#18a1cd"/><circle cx="762.1" cy="458.1" r="6" fill="#18a1cd"/><circle cx="760.4" cy="455.2" r="6" fill="#18a1cd"/><circle cx="764.8" cy="450.2" r="6" fill="#18a1cd"/><circle cx="755.7" cy="462.3" r="6" fill="#18a1cd"/><circle cx="769.8" cy="463.3" r="6" fill="#18a1cd"/><circle cx="768.5" cy="463.6" r="6" fill="#18a1cd"/><circle cx="758.8" cy="471.4" r="6" fill="#18a1cd"/><circle cx="789" cy="456.3" r="6" fill="#18a1cd"/><circle cx="637" cy="495" r="6" fill="#18a1cd"/><circle cx="662.4" cy="498.6" r="6" fill="#18a1cd"/><circle cx="668.4" cy="508.7" r="6" fill="#18a1cd"/><circle cx="694.8" cy="503.1" r="6" fill="#18a1cd"/><circle cx="693.5" cy="503.4" r="6" fill="#18a1cd"/><circle cx="681.9" cy="519.4" r="6" fill="#18a1cd"/><circle cx="675.5" cy="527.3" r="6" fill="#18a1cd"/><circle cx="780.3" cy="497.2" r="6" fill="#18a1cd"/><circle cx="780.9" cy="509.1" r="6" fill="#18a1cd"/><circle cx="769.8" cy="537.5" r="6" fill="#2e9a4a"/><circle cx="777.9" cy="538.3" r="6" fill="#18a1cd"/><circle cx="776.6" cy="538.6" r="6" fill="#18a1cd"/><circle cx="778.6" cy="537.2" r="6" fill="#18a1cd"/><circle cx="778.2" cy="538.6" r="6" fill="#2e9a4a"/><circle cx="781.3" cy="547.4" r="6" fill="#18a1cd"/><circle cx="782.9" cy="554.7" r="6" fill="#18a1cd"/><circle cx="771.3" cy="562.5" r="6" fill="#18a1cd"/><circle cx="770" cy="562.8" r="6" fill="#18a1cd"/><circle cx="772" cy="561.4" r="6" fill="#18a1cd"/><circle cx="770.5" cy="563.5" r="6" fill="#2e9a4a"/><circle cx="776.9" cy="563.5" r="6" fill="#18a1cd"/><circle cx="643.4" cy="528.3" r="6" fill="#18a1cd"/><circle cx="636.8" cy="533.9" r="6" fill="#fa8c00"/><circle cx="635.5" cy="534.2" r="6" fill="#fa8c00"/><circle cx="631.7" cy="536.9" r="6" fill="#18a1cd"/><circle cx="630.4" cy="537.2" r="6" fill="#18a1cd"/><circle cx="632.2" cy="536.5" r="6" fill="#2e9a4a"/><circle cx="632.7" cy="543.4" r="6" fill="#18a1cd"/><circle cx="648.9" cy="547" r="6" fill="#2e9a4a"/><circle cx="648.5" cy="547.5" r="6" fill="#18a1cd"/><circle cx="647.2" cy="547.8" r="6" fill="#18a1cd"/><circle cx="648.9" cy="544.5" r="6" fill="#fa8c00"/><circle cx="672.1" cy="556.7" r="6" fill="#18a1cd"/><circle cx="700.7" cy="560.5" r="6" fill="#18a1cd"/><circle cx="722.5" cy="575.6" r="6" fill="#18a1cd"/><circle cx="721.2" cy="575.9" r="6" fill="#18a1cd"/><circle cx="723.2" cy="574.5" r="6" fill="#18a1cd"/><circle cx="717.4" cy="579.3" r="6" fill="#18a1cd"/><circle cx="709.4" cy="581.3" r="6" fill="#18a1cd"/><circle cx="751.7" cy="600" r="6" fill="#18a1cd"/><circle cx="780.9" cy="599" r="6" fill="#18a1cd"/><circle cx="609.6" cy="617.8" r="6" fill="#18a1cd"/><circle cx="618.6" cy="621.9" r="6" fill="#18a1cd"/><circle cx="595.4" cy="624.3" r="6" fill="#18a1cd"/><circle cx="594.1" cy="624.6" r="6" fill="#18a1cd"/><circle cx="598.5" cy="626.3" r="6" fill="#18a1cd"/><circle cx="597.2" cy="626.6" r="6" fill="#18a1cd"/><circle cx="606.5" cy="635.4" r="6" fill="#18a1cd"/><circle cx="604" cy="636" r="6" fill="#18a1cd"/><circle cx="607.9" cy="633.2" r="6" fill="#18a1cd"/><circle cx="606.9" cy="638" r="6" fill="#18a1cd"/><circle cx="604.5" cy="633.8" r="6" fill="#18a1cd"/><circle cx="609.1" cy="635.2" r="6" fill="#18a1cd"/><circle cx="604.7" cy="637.3" r="6" fill="#18a1cd"/><circle cx="609" cy="633" r="6" fill="#18a1cd"/><circle cx="607.7" cy="633.3" r="6" fill="#18a1cd"/><circle cx="612.6" cy="633.3" r="6" fill="#18a1cd"/><circle cx="611.3" cy="633.6" r="6" fill="#18a1cd"/><circle cx="613.3" cy="632.2" r="6" fill="#18a1cd"/><circle cx="604.5" cy="639.4" r="6" fill="#2e9a4a"/><circle cx="603.2" cy="639.7" r="6" fill="#2e9a4a"/><circle cx="605.2" cy="638.3" r="6" fill="#2e9a4a"/><circle cx="608.5" cy="644.4" r="6" fill="#2e9a4a"/><circle cx="617.6" cy="647.5" r="6" fill="#18a1cd"/><circle cx="616.3" cy="647.8" r="6" fill="#18a1cd"/><circle cx="600.5" cy="640.4" r="6" fill="#18a1cd"/><circle cx="626.7" cy="640" r="6" fill="#18a1cd"/><circle cx="637.4" cy="650.5" r="6" fill="#18a1cd"/><circle cx="649.9" cy="647.1" r="6" fill="#18a1cd"/><circle cx="660.6" cy="641.8" r="6" fill="#18a1cd"/><circle cx="606.5" cy="666.6" r="6" fill="#18a1cd"/><circle cx="648.5" cy="687.8" r="6" fill="#18a1cd"/><circle cx="647.2" cy="688.1" r="6" fill="#18a1cd"/><circle cx="590.8" cy="702.9" r="6" fill="#18a1cd"/><circle cx="589.5" cy="703.2" r="6" fill="#18a1cd"/><circle cx="579.3" cy="709" r="6" fill="#18a1cd"/><circle cx="588.4" cy="711" r="6" fill="#18a1cd"/><circle cx="587.1" cy="711.3" r="6" fill="#18a1cd"/><circle cx="586" cy="715" r="6" fill="#18a1cd"/><circle cx="593.4" cy="705.9" r="6" fill="#18a1cd"/><circle cx="572.3" cy="725.1" r="6" fill="#18a1cd"/><circle cx="571" cy="725.4" r="6" fill="#18a1cd"/><circle cx="570.2" cy="731.1" r="6" fill="#2e9a4a"/><circle cx="568.9" cy="731.4" r="6" fill="#2e9a4a"/><circle cx="566.2" cy="732.1" r="6" fill="#fa8c00"/><circle cx="569" cy="730" r="6" fill="#18a1cd"/><circle cx="577.3" cy="729.1" r="6" fill="#18a1cd"/><circle cx="576" cy="729.4" r="6" fill="#18a1cd"/><circle cx="608.5" cy="731.1" r="6" fill="#18a1cd"/><circle cx="610" cy="748.3" r="6" fill="#18a1cd"/><circle cx="601.5" cy="775.5" r="6" fill="#18a1cd"/><circle cx="642.8" cy="711" r="6" fill="#18a1cd"/><circle cx="652.9" cy="712" r="6" fill="#18a1cd"/><circle cx="651.6" cy="712.3" r="6" fill="#18a1cd"/><circle cx="633.8" cy="718" r="6" fill="#18a1cd"/><circle cx="634.8" cy="724.1" r="6" fill="#18a1cd"/><circle cx="633.5" cy="724.4" r="6" fill="#18a1cd"/><circle cx="649.9" cy="720" r="6" fill="#18a1cd"/><circle cx="647.4" cy="720.6" r="6" fill="#18a1cd"/><circle cx="651.3" cy="717.8" r="6" fill="#18a1cd"/><circle cx="650.3" cy="722.6" r="6" fill="#18a1cd"/><circle cx="647.9" cy="718.4" r="6" fill="#18a1cd"/><circle cx="652.5" cy="719.8" r="6" fill="#18a1cd"/><circle cx="648.1" cy="721.9" r="6" fill="#18a1cd"/><circle cx="647" cy="718" r="6" fill="#18a1cd"/><circle cx="645.7" cy="718.3" r="6" fill="#18a1cd"/><circle cx="642.8" cy="719" r="6" fill="#2e9a4a"/><circle cx="641.5" cy="719.3" r="6" fill="#2e9a4a"/><circle cx="651.9" cy="727.1" r="6" fill="#2e9a4a"/><circle cx="650.6" cy="727.4" r="6" fill="#2e9a4a"/><circle cx="648.9" cy="728.1" r="6" fill="#18a1cd"/><circle cx="662.4" cy="735.2" r="6" fill="#18a1cd"/><circle cx="661.1" cy="735.5" r="6" fill="#18a1cd"/><circle cx="679.1" cy="711" r="6" fill="#18a1cd"/><circle cx="677.8" cy="711.3" r="6" fill="#18a1cd"/><circle cx="683.1" cy="714" r="6" fill="#18a1cd"/><circle cx="681.8" cy="714.3" r="6" fill="#18a1cd"/><circle cx="683.8" cy="712.9" r="6" fill="#18a1cd"/><circle cx="688.2" cy="714" r="6" fill="#18a1cd"/><circle cx="680.1" cy="719" r="6" fill="#18a1cd"/><circle cx="687.2" cy="641.4" r="6" fill="#18a1cd"/><circle cx="685.9" cy="641.7" r="6" fill="#18a1cd"/><circle cx="713.4" cy="619.8" r="6" fill="#18a1cd"/><circle cx="728.1" cy="640.4" r="6" fill="#18a1cd"/><circle cx="726.8" cy="640.7" r="6" fill="#18a1cd"/><circle cx="724.5" cy="640.4" r="6" fill="#18a1cd"/><circle cx="731.5" cy="640.4" r="6" fill="#18a1cd"/><circle cx="721" cy="673.3" r="6" fill="#18a1cd"/><circle cx="700.3" cy="689.4" r="6" fill="#18a1cd"/><circle cx="732.5" cy="706.9" r="6" fill="#18a1cd"/><circle cx="739.6" cy="719.4" r="6" fill="#18a1cd"/><circle cx="769.2" cy="643.8" r="6" fill="#18a1cd"/><circle cx="776.9" cy="642.8" r="6" fill="#18a1cd"/><circle cx="752.7" cy="695.2" r="6" fill="#18a1cd"/><circle cx="751.4" cy="695.5" r="6" fill="#18a1cd"/><circle cx="757.7" cy="697.9" r="6" fill="#18a1cd"/><circle cx="756.4" cy="698.2" r="6" fill="#18a1cd"/><circle cx="758.8" cy="703.9" r="6" fill="#18a1cd"/><circle cx="776.9" cy="711.6" r="6" fill="#2e9a4a"/><circle cx="775.6" cy="711.9" r="6" fill="#2e9a4a"/><circle cx="776.5" cy="714" r="6" fill="#fa8c00"/><circle cx="785" cy="708" r="6" fill="#18a1cd"/><circle cx="784" cy="716" r="6" fill="#18a1cd"/><circle cx="573.1" cy="825.1" r="6" fill="#18a1cd"/><circle cx="571.8" cy="825.4" r="6" fill="#18a1cd"/><circle cx="581.7" cy="823.1" r="6" fill="#18a1cd"/><circle cx="719" cy="216.1" r="6" fill="#18a1cd"/><circle cx="710.3" cy="224.7" r="6" fill="#18a1cd"/><circle cx="768.4" cy="229.8" r="6" fill="#fa8c00"/><circle cx="793.7" cy="290.3" r="6" fill="#18a1cd"/><circle cx="792.4" cy="290.6" r="6" fill="#18a1cd"/><circle cx="794.4" cy="289.2" r="6" fill="#18a1cd"/><circle cx="787.7" cy="299.7" r="6" fill="#2e9a4a"/><circle cx="786.4" cy="300" r="6" fill="#2e9a4a"/><circle cx="787.7" cy="301" r="6" fill="#fa8c00"/><circle cx="788.9" cy="308.5" r="6" fill="#18a1cd"/><circle cx="794.5" cy="318.2" r="6" fill="#18a1cd"/><circle cx="793.2" cy="318.5" r="6" fill="#18a1cd"/><circle cx="797.7" cy="320.6" r="6" fill="#18a1cd"/><circle cx="796.4" cy="320.9" r="6" fill="#18a1cd"/><circle cx="798.4" cy="319.5" r="6" fill="#18a1cd"/><circle cx="800.2" cy="326" r="6" fill="#2e9a4a"/><circle cx="798.9" cy="326.3" r="6" fill="#2e9a4a"/><circle cx="800.9" cy="324.9" r="6" fill="#2e9a4a"/><circle cx="800.5" cy="325" r="6" fill="#18a1cd"/><circle cx="802.6" cy="331.9" r="6" fill="#18a1cd"/><circle cx="801.3" cy="332.2" r="6" fill="#18a1cd"/><circle cx="795.3" cy="330.3" r="6" fill="#18a1cd"/><circle cx="806.6" cy="331.1" r="6" fill="#18a1cd"/><circle cx="865" cy="273.1" r="6" fill="#fa8c00"/><circle cx="851.8" cy="286.3" r="6" fill="#fa8c00"/><circle cx="866.8" cy="303.7" r="6" fill="#fa8c00"/><circle cx="877.6" cy="303.7" r="6" fill="#18a1cd"/><circle cx="849.4" cy="319.8" r="6" fill="#18a1cd"/><circle cx="851.8" cy="326.3" r="6" fill="#2e9a4a"/><circle cx="850.5" cy="326.6" r="6" fill="#2e9a4a"/><circle cx="852.5" cy="325.2" r="6" fill="#2e9a4a"/><circle cx="841.3" cy="329" r="6" fill="#18a1cd"/><circle cx="855" cy="328.7" r="6" fill="#18a1cd"/><circle cx="806.2" cy="346.5" r="6" fill="#18a1cd"/><circle cx="805.2" cy="357.4" r="6" fill="#2e9a4a"/><circle cx="803.9" cy="357.7" r="6" fill="#2e9a4a"/><circle cx="805.9" cy="356.3" r="6" fill="#2e9a4a"/><circle cx="811.6" cy="360" r="6" fill="#18a1cd"/><circle cx="810.3" cy="360.3" r="6" fill="#18a1cd"/><circle cx="811.6" cy="360.5" r="6" fill="#2e9a4a"/><circle cx="797.4" cy="365.2" r="6" fill="#2e9a4a"/><circle cx="796.1" cy="365.5" r="6" fill="#2e9a4a"/><circle cx="809" cy="365.2" r="6" fill="#18a1cd"/><circle cx="807.7" cy="365.5" r="6" fill="#18a1cd"/><circle cx="809.7" cy="364.1" r="6" fill="#18a1cd"/><circle cx="809.5" cy="364.5" r="6" fill="#2e9a4a"/><circle cx="811.6" cy="371.6" r="6" fill="#2e9a4a"/><circle cx="810.3" cy="371.9" r="6" fill="#2e9a4a"/><circle cx="812.3" cy="370.5" r="6" fill="#2e9a4a"/><circle cx="803.9" cy="369" r="6" fill="#2e9a4a"/><circle cx="794.8" cy="358.7" r="6" fill="#18a1cd"/><circle cx="820.6" cy="367.7" r="6" fill="#18a1cd"/><circle cx="819.3" cy="368" r="6" fill="#18a1cd"/><circle cx="821.3" cy="366.6" r="6" fill="#18a1cd"/><circle cx="825.8" cy="366.5" r="6" fill="#18a1cd"/><circle cx="819.4" cy="373.5" r="6" fill="#18a1cd"/><circle cx="818.1" cy="373.8" r="6" fill="#18a1cd"/><circle cx="825.2" cy="379.4" r="6" fill="#18a1cd"/><circle cx="808.8" cy="383.9" r="6" fill="#18a1cd"/><circle cx="807.5" cy="384.2" r="6" fill="#18a1cd"/><circle cx="802.6" cy="374.2" r="6" fill="#18a1cd"/><circle cx="790.6" cy="378.3" r="6" fill="#fa8c00"/><circle cx="829" cy="392.5" r="6" fill="#18a1cd"/><circle cx="770.8" cy="396.2" r="6" fill="#18a1cd"/><circle cx="769.5" cy="396.5" r="6" fill="#18a1cd"/><circle cx="778.9" cy="399.2" r="6" fill="#18a1cd"/><circle cx="777.6" cy="399.5" r="6" fill="#18a1cd"/><circle cx="779.6" cy="398.1" r="6" fill="#18a1cd"/><circle cx="786.5" cy="395.9" r="6" fill="#2e9a4a"/><circle cx="785.2" cy="396.2" r="6" fill="#2e9a4a"/><circle cx="789" cy="395.5" r="6" fill="#18a1cd"/><circle cx="825.2" cy="429.7" r="6" fill="#18a1cd"/><circle cx="839.7" cy="342.6" r="6" fill="#18a1cd"/><circle cx="835.9" cy="351" r="6" fill="#18a1cd"/><circle cx="854.8" cy="344.5" r="6" fill="#fa8c00"/><circle cx="862.6" cy="341.9" r="6" fill="#fa8c00"/><circle cx="869" cy="332.9" r="6" fill="#fa8c00"/><circle cx="867.7" cy="333.2" r="6" fill="#fa8c00"/><circle cx="873.5" cy="328.4" r="6" fill="#2e9a4a"/><circle cx="872.2" cy="328.7" r="6" fill="#2e9a4a"/><circle cx="874.2" cy="327.3" r="6" fill="#2e9a4a"/><circle cx="881.3" cy="329" r="6" fill="#18a1cd"/><circle cx="879.4" cy="342.6" r="6" fill="#fa8c00"/><circle cx="877.6" cy="343" r="6" fill="#fa8c00"/><circle cx="880.4" cy="341.1" r="6" fill="#fa8c00"/><circle cx="879.7" cy="344.4" r="6" fill="#fa8c00"/><circle cx="879.6" cy="342.8" r="6" fill="#18a1cd"/><circle cx="892.9" cy="340.6" r="6" fill="#fa8c00"/><circle cx="892.9" cy="322.6" r="6" fill="#fa8c00"/><circle cx="903.2" cy="332.9" r="6" fill="#2e9a4a"/><circle cx="901.9" cy="333.2" r="6" fill="#2e9a4a"/><circle cx="903.9" cy="331.8" r="6" fill="#2e9a4a"/><circle cx="904" cy="333.5" r="6" fill="#18a1cd"/><circle cx="908.4" cy="330.3" r="6" fill="#fa8c00"/><circle cx="908.4" cy="330.8" r="6" fill="#2e9a4a"/><circle cx="907.1" cy="331.1" r="6" fill="#2e9a4a"/><circle cx="911" cy="325.2" r="6" fill="#18a1cd"/><circle cx="896.8" cy="330.3" r="6" fill="#18a1cd"/><circle cx="904.5" cy="341.9" r="6" fill="#18a1cd"/><circle cx="840" cy="359.4" r="6" fill="#fa8c00"/><circle cx="841.9" cy="361.9" r="6" fill="#2e9a4a"/><circle cx="850.3" cy="362.6" r="6" fill="#18a1cd"/><circle cx="849" cy="362.9" r="6" fill="#18a1cd"/><circle cx="851" cy="361.5" r="6" fill="#18a1cd"/><circle cx="842.6" cy="365.2" r="6" fill="#18a1cd"/><circle cx="871.6" cy="367.1" r="6" fill="#18a1cd"/><circle cx="865.8" cy="379.4" r="6" fill="#2e9a4a"/><circle cx="869.7" cy="378.1" r="6" fill="#2e9a4a"/><circle cx="868.4" cy="378.4" r="6" fill="#2e9a4a"/><circle cx="898.7" cy="357.4" r="6" fill="#2e9a4a"/><circle cx="897.4" cy="357.7" r="6" fill="#2e9a4a"/><circle cx="898" cy="356.5" r="6" fill="#18a1cd"/><circle cx="896.8" cy="362.6" r="6" fill="#18a1cd"/><circle cx="899.4" cy="372.9" r="6" fill="#18a1cd"/><circle cx="898.1" cy="373.2" r="6" fill="#18a1cd"/><circle cx="900" cy="369.5" r="6" fill="#18a1cd"/><circle cx="916.1" cy="365.8" r="6" fill="#18a1cd"/><circle cx="847.7" cy="398.1" r="6" fill="#18a1cd"/><circle cx="846.4" cy="398.4" r="6" fill="#18a1cd"/><circle cx="859.1" cy="396.1" r="6" fill="#18a1cd"/><circle cx="857.8" cy="396.4" r="6" fill="#18a1cd"/><circle cx="865.5" cy="404.8" r="6" fill="#2e9a4a"/><circle cx="864.2" cy="405.1" r="6" fill="#2e9a4a"/><circle cx="851.6" cy="410.3" r="6" fill="#18a1cd"/><circle cx="850.3" cy="410.6" r="6" fill="#18a1cd"/><circle cx="851.6" cy="419.4" r="6" fill="#18a1cd"/><circle cx="849.9" cy="419.8" r="6" fill="#18a1cd"/><circle cx="852.6" cy="417.9" r="6" fill="#18a1cd"/><circle cx="851.9" cy="421.2" r="6" fill="#18a1cd"/><circle cx="852" cy="420" r="6" fill="#2e9a4a"/><circle cx="843.9" cy="418.7" r="6" fill="#18a1cd"/><circle cx="858.1" cy="425.2" r="6" fill="#18a1cd"/><circle cx="856.8" cy="425.5" r="6" fill="#18a1cd"/><circle cx="845.2" cy="423.2" r="6" fill="#18a1cd"/><circle cx="886.2" cy="396.4" r="6" fill="#18a1cd"/><circle cx="884.9" cy="396.7" r="6" fill="#18a1cd"/><circle cx="900" cy="395.5" r="6" fill="#18a1cd"/><circle cx="908.4" cy="397.4" r="6" fill="#18a1cd"/><circle cx="914.8" cy="394.8" r="6" fill="#18a1cd"/><circle cx="894.2" cy="411.6" r="6" fill="#fa8c00"/><circle cx="892.9" cy="411.9" r="6" fill="#fa8c00"/><circle cx="900" cy="408.4" r="6" fill="#2e9a4a"/><circle cx="892.9" cy="415.5" r="6" fill="#2e9a4a"/><circle cx="916.1" cy="405.2" r="6" fill="#18a1cd"/><circle cx="914.8" cy="405.5" r="6" fill="#18a1cd"/><circle cx="916.5" cy="405.6" r="6" fill="#2e9a4a"/><circle cx="914.5" cy="406" r="6" fill="#fa8c00"/><circle cx="889" cy="419.4" r="6" fill="#18a1cd"/><circle cx="887.7" cy="419.7" r="6" fill="#18a1cd"/><circle cx="896.8" cy="421.9" r="6" fill="#18a1cd"/><circle cx="895.5" cy="422.2" r="6" fill="#18a1cd"/><circle cx="903.2" cy="421.9" r="6" fill="#18a1cd"/><circle cx="883.9" cy="429.7" r="6" fill="#18a1cd"/><circle cx="882.6" cy="430" r="6" fill="#18a1cd"/><circle cx="884.6" cy="428.6" r="6" fill="#18a1cd"/><circle cx="890.3" cy="433.5" r="6" fill="#18a1cd"/><circle cx="889" cy="433.8" r="6" fill="#18a1cd"/><circle cx="891" cy="432.4" r="6" fill="#18a1cd"/><circle cx="898.1" cy="433.5" r="6" fill="#18a1cd"/><circle cx="882.6" cy="436.1" r="6" fill="#18a1cd"/><circle cx="881.3" cy="436.4" r="6" fill="#18a1cd"/><circle cx="991.9" cy="303.5" r="6" fill="#2e9a4a"/><circle cx="990.6" cy="303.8" r="6" fill="#2e9a4a"/><circle cx="998.7" cy="304.2" r="6" fill="#18a1cd"/><circle cx="997.4" cy="304.5" r="6" fill="#18a1cd"/><circle cx="1016.8" cy="293" r="6" fill="#18a1cd"/><circle cx="1015.5" cy="293.3" r="6" fill="#18a1cd"/><circle cx="1017.5" cy="291.9" r="6" fill="#18a1cd"/><circle cx="1031" cy="297.7" r="6" fill="#18a1cd"/><circle cx="1021.3" cy="300.3" r="6" fill="#18a1cd"/><circle cx="1018.5" cy="310.6" r="6" fill="#18a1cd"/><circle cx="1017.2" cy="310.9" r="6" fill="#18a1cd"/><circle cx="1049" cy="290" r="6" fill="#18a1cd"/><circle cx="1047.7" cy="290.3" r="6" fill="#18a1cd"/><circle cx="1059.4" cy="282.9" r="6" fill="#18a1cd"/><circle cx="1016.1" cy="324.6" r="6" fill="#18a1cd"/><circle cx="1002.3" cy="331.9" r="6" fill="#18a1cd"/><circle cx="971.6" cy="332.6" r="6" fill="#18a1cd"/><circle cx="970.3" cy="332.9" r="6" fill="#18a1cd"/><circle cx="972.3" cy="331.5" r="6" fill="#18a1cd"/><circle cx="956.1" cy="343.5" r="6" fill="#18a1cd"/><circle cx="954.8" cy="343.8" r="6" fill="#18a1cd"/><circle cx="953" cy="345" r="6" fill="#18a1cd"/><circle cx="938.7" cy="357.7" r="6" fill="#18a1cd"/><circle cx="937.4" cy="358" r="6" fill="#18a1cd"/><circle cx="939.4" cy="356.6" r="6" fill="#18a1cd"/><circle cx="926.5" cy="370" r="6" fill="#18a1cd"/><circle cx="936.8" cy="368.1" r="6" fill="#18a1cd"/><circle cx="935.5" cy="368.4" r="6" fill="#18a1cd"/><circle cx="924.5" cy="379.7" r="6" fill="#18a1cd"/><circle cx="947.1" cy="362.9" r="6" fill="#fa8c00"/><circle cx="945.8" cy="363.2" r="6" fill="#fa8c00"/><circle cx="943.2" cy="363.5" r="6" fill="#2e9a4a"/><circle cx="947.1" cy="370.6" r="6" fill="#fa8c00"/><circle cx="949" cy="374.5" r="6" fill="#2e9a4a"/><circle cx="948.5" cy="375" r="6" fill="#fa8c00"/><circle cx="950.3" cy="377.1" r="6" fill="#18a1cd"/><circle cx="960.6" cy="361.6" r="6" fill="#18a1cd"/><circle cx="959.3" cy="361.9" r="6" fill="#18a1cd"/><circle cx="961.3" cy="360.5" r="6" fill="#18a1cd"/><circle cx="969.7" cy="360.3" r="6" fill="#18a1cd"/><circle cx="968.4" cy="360.6" r="6" fill="#18a1cd"/><circle cx="961.9" cy="369.4" r="6" fill="#18a1cd"/><circle cx="960.6" cy="369.7" r="6" fill="#18a1cd"/><circle cx="973.5" cy="369.4" r="6" fill="#18a1cd"/><circle cx="972.2" cy="369.7" r="6" fill="#18a1cd"/><circle cx="974.2" cy="368.3" r="6" fill="#18a1cd"/><circle cx="965.8" cy="373.2" r="6" fill="#18a1cd"/><circle cx="974.8" cy="377.1" r="6" fill="#2e9a4a"/><circle cx="973.5" cy="377.4" r="6" fill="#2e9a4a"/><circle cx="980.6" cy="381.6" r="6" fill="#2e9a4a"/><circle cx="979.3" cy="381.9" r="6" fill="#2e9a4a"/><circle cx="981.3" cy="380.5" r="6" fill="#2e9a4a"/><circle cx="972.3" cy="383.5" r="6" fill="#fa8c00"/><circle cx="985.2" cy="379.7" r="6" fill="#18a1cd"/><circle cx="983.9" cy="380" r="6" fill="#18a1cd"/><circle cx="992.9" cy="383.5" r="6" fill="#18a1cd"/><circle cx="1003.2" cy="384.8" r="6" fill="#18a1cd"/><circle cx="967.1" cy="386.1" r="6" fill="#18a1cd"/><circle cx="1007.7" cy="370.6" r="6" fill="#18a1cd"/><circle cx="1015.2" cy="372.6" r="6" fill="#2e9a4a"/><circle cx="1013.9" cy="372.9" r="6" fill="#2e9a4a"/><circle cx="1012.3" cy="368.1" r="6" fill="#18a1cd"/><circle cx="1024.5" cy="371.3" r="6" fill="#18a1cd"/><circle cx="1037.4" cy="347.4" r="6" fill="#18a1cd"/><circle cx="1036.1" cy="347.7" r="6" fill="#18a1cd"/><circle cx="1043.2" cy="349.4" r="6" fill="#18a1cd"/><circle cx="1045.8" cy="356.5" r="6" fill="#18a1cd"/><circle cx="1044.5" cy="356.8" r="6" fill="#18a1cd"/><circle cx="1059.4" cy="350" r="6" fill="#18a1cd"/><circle cx="1058.1" cy="350.3" r="6" fill="#18a1cd"/><circle cx="1043.2" cy="374.5" r="6" fill="#18a1cd"/><circle cx="1041.9" cy="374.8" r="6" fill="#18a1cd"/><circle cx="1049.7" cy="374.5" r="6" fill="#18a1cd"/><circle cx="1048.4" cy="374.8" r="6" fill="#18a1cd"/><circle cx="1050.4" cy="373.4" r="6" fill="#18a1cd"/><circle cx="1056.1" cy="379" r="6" fill="#2e9a4a"/><circle cx="1054.8" cy="379.3" r="6" fill="#2e9a4a"/><circle cx="1056.8" cy="377.9" r="6" fill="#2e9a4a"/><circle cx="1047.1" cy="384.8" r="6" fill="#18a1cd"/><circle cx="925.2" cy="403.2" r="6" fill="#18a1cd"/><circle cx="923.9" cy="403.5" r="6" fill="#18a1cd"/><circle cx="942.6" cy="401.9" r="6" fill="#18a1cd"/><circle cx="941.3" cy="402.2" r="6" fill="#18a1cd"/><circle cx="958.1" cy="398.1" r="6" fill="#18a1cd"/><circle cx="985.2" cy="391.6" r="6" fill="#18a1cd"/><circle cx="983.9" cy="391.9" r="6" fill="#18a1cd"/><circle cx="985.2" cy="403.2" r="6" fill="#18a1cd"/><circle cx="980.6" cy="409" r="6" fill="#18a1cd"/><circle cx="979.3" cy="409.3" r="6" fill="#18a1cd"/><circle cx="1002.6" cy="401.9" r="6" fill="#18a1cd"/><circle cx="1032.9" cy="394.8" r="6" fill="#18a1cd"/><circle cx="1027.7" cy="411" r="6" fill="#18a1cd"/><circle cx="1026" cy="411.4" r="6" fill="#18a1cd"/><circle cx="1028.7" cy="409.5" r="6" fill="#18a1cd"/><circle cx="1028" cy="412.8" r="6" fill="#18a1cd"/><circle cx="1029" cy="416.8" r="6" fill="#18a1cd"/><circle cx="1045.2" cy="412.3" r="6" fill="#18a1cd"/><circle cx="1043.9" cy="412.6" r="6" fill="#18a1cd"/><circle cx="1045.9" cy="411.2" r="6" fill="#18a1cd"/><circle cx="1052.3" cy="417.4" r="6" fill="#18a1cd"/><circle cx="1051" cy="417.7" r="6" fill="#18a1cd"/><circle cx="932.3" cy="448.4" r="6" fill="#fa8c00"/><circle cx="934.8" cy="447.1" r="6" fill="#2e9a4a"/><circle cx="938.1" cy="447.1" r="6" fill="#18a1cd"/><circle cx="951" cy="445.2" r="6" fill="#18a1cd"/><circle cx="949.7" cy="445.5" r="6" fill="#18a1cd"/><circle cx="951.7" cy="444.1" r="6" fill="#18a1cd"/><circle cx="952" cy="447.5" r="6" fill="#18a1cd"/><circle cx="966.7" cy="464.3" r="6" fill="#18a1cd"/><circle cx="1014.2" cy="436.1" r="6" fill="#18a1cd"/><circle cx="1012.9" cy="436.4" r="6" fill="#18a1cd"/><circle cx="1014.8" cy="440.6" r="6" fill="#18a1cd"/><circle cx="1035.5" cy="436.8" r="6" fill="#18a1cd"/><circle cx="1051.6" cy="449" r="6" fill="#18a1cd"/><circle cx="1050.3" cy="449.3" r="6" fill="#18a1cd"/><circle cx="1052.9" cy="454.8" r="6" fill="#18a1cd"/><circle cx="1051.6" cy="455.1" r="6" fill="#18a1cd"/><circle cx="1053.6" cy="453.7" r="6" fill="#18a1cd"/><circle cx="1054.8" cy="461.9" r="6" fill="#2e9a4a"/><circle cx="1054.8" cy="465.8" r="6" fill="#fa8c00"/><circle cx="1005.8" cy="460.6" r="6" fill="#18a1cd"/><circle cx="1014.8" cy="464.5" r="6" fill="#18a1cd"/><circle cx="1013" cy="464.9" r="6" fill="#18a1cd"/><circle cx="1015.8" cy="463" r="6" fill="#18a1cd"/><circle cx="1015.1" cy="466.3" r="6" fill="#18a1cd"/><circle cx="1007.1" cy="469" r="6" fill="#18a1cd"/><circle cx="995.5" cy="472.9" r="6" fill="#18a1cd"/><circle cx="994.2" cy="473.2" r="6" fill="#18a1cd"/><circle cx="1055.5" cy="478.1" r="6" fill="#18a1cd"/><circle cx="1054.2" cy="487.1" r="6" fill="#18a1cd"/><circle cx="905.2" cy="491" r="6" fill="#18a1cd"/><circle cx="954.2" cy="494.8" r="6" fill="#18a1cd"/><circle cx="952.9" cy="495.1" r="6" fill="#18a1cd"/><circle cx="954.9" cy="493.7" r="6" fill="#18a1cd"/><circle cx="950.5" cy="496" r="6" fill="#18a1cd"/><circle cx="1029.4" cy="503.7" r="6" fill="#fa8c00"/><circle cx="1069" cy="334" r="6" fill="#18a1cd"/><circle cx="1067.7" cy="334.3" r="6" fill="#18a1cd"/><circle cx="1069.7" cy="332.9" r="6" fill="#18a1cd"/><circle cx="1063.2" cy="349" r="6" fill="#18a1cd"/><circle cx="1061.9" cy="349.3" r="6" fill="#18a1cd"/><circle cx="1062.7" cy="352.9" r="6" fill="#18a1cd"/><circle cx="1074.4" cy="352.9" r="6" fill="#18a1cd"/><circle cx="1078.7" cy="352.9" r="6" fill="#18a1cd"/><circle cx="1077.4" cy="353.2" r="6" fill="#18a1cd"/><circle cx="1079.4" cy="351.8" r="6" fill="#18a1cd"/><circle cx="1084.5" cy="349" r="6" fill="#18a1cd"/><circle cx="1083.2" cy="349.3" r="6" fill="#18a1cd"/><circle cx="1077.3" cy="357.8" r="6" fill="#18a1cd"/><circle cx="1076" cy="358.1" r="6" fill="#18a1cd"/><circle cx="1098.6" cy="326.3" r="6" fill="#18a1cd"/><circle cx="1097.3" cy="326.6" r="6" fill="#18a1cd"/><circle cx="1099.3" cy="325.2" r="6" fill="#18a1cd"/><circle cx="1098.1" cy="332.6" r="6" fill="#18a1cd"/><circle cx="1107.8" cy="333.6" r="6" fill="#18a1cd"/><circle cx="1106.5" cy="333.9" r="6" fill="#18a1cd"/><circle cx="1113.6" cy="336.5" r="6" fill="#18a1cd"/><circle cx="1122.3" cy="329.7" r="6" fill="#18a1cd"/><circle cx="1132" cy="336.9" r="6" fill="#18a1cd"/><circle cx="1130.7" cy="337.2" r="6" fill="#18a1cd"/><circle cx="1131" cy="333" r="6" fill="#18a1cd"/><circle cx="1121.3" cy="343.7" r="6" fill="#18a1cd"/><circle cx="1120" cy="344" r="6" fill="#18a1cd"/><circle cx="1127.6" cy="321" r="6" fill="#2e9a4a"/><circle cx="1126.3" cy="321.3" r="6" fill="#2e9a4a"/><circle cx="1128.3" cy="319.9" r="6" fill="#2e9a4a"/><circle cx="1134.9" cy="323.9" r="6" fill="#18a1cd"/><circle cx="1144.5" cy="321" r="6" fill="#18a1cd"/><circle cx="1096.1" cy="345.2" r="6" fill="#18a1cd"/><circle cx="1094.8" cy="345.5" r="6" fill="#18a1cd"/><circle cx="1096.8" cy="344.1" r="6" fill="#18a1cd"/><circle cx="1103.9" cy="348.1" r="6" fill="#2e9a4a"/><circle cx="1102.6" cy="348.4" r="6" fill="#2e9a4a"/><circle cx="1104.5" cy="348.5" r="6" fill="#18a1cd"/><circle cx="1103.2" cy="348.8" r="6" fill="#18a1cd"/><circle cx="1099" cy="353.9" r="6" fill="#18a1cd"/><circle cx="1097.7" cy="354.2" r="6" fill="#18a1cd"/><circle cx="1099.7" cy="352.8" r="6" fill="#18a1cd"/><circle cx="1110.7" cy="347.1" r="6" fill="#18a1cd"/><circle cx="1109.4" cy="347.4" r="6" fill="#18a1cd"/><circle cx="1111.4" cy="346" r="6" fill="#18a1cd"/><circle cx="1108.2" cy="365" r="6" fill="#18a1cd"/><circle cx="1093.7" cy="366" r="6" fill="#18a1cd"/><circle cx="1092" cy="366.4" r="6" fill="#18a1cd"/><circle cx="1094.7" cy="364.5" r="6" fill="#18a1cd"/><circle cx="1094" cy="367.8" r="6" fill="#18a1cd"/><circle cx="1094" cy="366.5" r="6" fill="#2e9a4a"/><circle cx="1086.5" cy="369.4" r="6" fill="#18a1cd"/><circle cx="1085.2" cy="369.7" r="6" fill="#18a1cd"/><circle cx="1087.2" cy="368.3" r="6" fill="#18a1cd"/><circle cx="1087" cy="369" r="6" fill="#2e9a4a"/><circle cx="1088.4" cy="377.1" r="6" fill="#2e9a4a"/><circle cx="1087.1" cy="377.4" r="6" fill="#2e9a4a"/><circle cx="1089.1" cy="376" r="6" fill="#2e9a4a"/><circle cx="1081.6" cy="363.6" r="6" fill="#18a1cd"/><circle cx="1080.3" cy="363.9" r="6" fill="#18a1cd"/><circle cx="1082.3" cy="362.5" r="6" fill="#18a1cd"/><circle cx="1072.9" cy="365.5" r="6" fill="#18a1cd"/><circle cx="1071.6" cy="365.8" r="6" fill="#18a1cd"/><circle cx="1068.1" cy="363.6" r="6" fill="#18a1cd"/><circle cx="1098.1" cy="374.2" r="6" fill="#18a1cd"/><circle cx="1100" cy="382" r="6" fill="#18a1cd"/><circle cx="1093.2" cy="386.8" r="6" fill="#18a1cd"/><circle cx="1091.9" cy="387.1" r="6" fill="#18a1cd"/><circle cx="1072.9" cy="377.1" r="6" fill="#2e9a4a"/><circle cx="1071.6" cy="377.4" r="6" fill="#2e9a4a"/><circle cx="1063.7" cy="376.1" r="6" fill="#2e9a4a"/><circle cx="1062.4" cy="376.4" r="6" fill="#2e9a4a"/><circle cx="1080.7" cy="384.4" r="6" fill="#18a1cd"/><circle cx="1079" cy="384.8" r="6" fill="#18a1cd"/><circle cx="1081.7" cy="382.9" r="6" fill="#18a1cd"/><circle cx="1081" cy="386.2" r="6" fill="#18a1cd"/><circle cx="1052.6" cy="395.5" r="6" fill="#18a1cd"/><circle cx="1051.3" cy="395.8" r="6" fill="#18a1cd"/><circle cx="1061.3" cy="401.3" r="6" fill="#18a1cd"/><circle cx="1059.5" cy="401.7" r="6" fill="#18a1cd"/><circle cx="1062.3" cy="399.8" r="6" fill="#18a1cd"/><circle cx="1061.6" cy="403.1" r="6" fill="#18a1cd"/><circle cx="1059.9" cy="400.2" r="6" fill="#18a1cd"/><circle cx="1066.1" cy="396.5" r="6" fill="#18a1cd"/><circle cx="1064.8" cy="396.8" r="6" fill="#18a1cd"/><circle cx="1045.8" cy="408.1" r="6" fill="#18a1cd"/><circle cx="1081.6" cy="397.4" r="6" fill="#18a1cd"/><circle cx="1083.6" cy="409.5" r="6" fill="#18a1cd"/><circle cx="1066.5" cy="409.4" r="6" fill="#18a1cd"/><circle cx="1056.8" cy="414.2" r="6" fill="#18a1cd"/><circle cx="1055.5" cy="414.5" r="6" fill="#18a1cd"/><circle cx="1057.5" cy="413.1" r="6" fill="#18a1cd"/><circle cx="1064.5" cy="422.4" r="6" fill="#18a1cd"/><circle cx="1075.7" cy="420.5" r="6" fill="#18a1cd"/><circle cx="1083.4" cy="413.7" r="6" fill="#18a1cd"/><circle cx="1088.7" cy="419" r="6" fill="#18a1cd"/><circle cx="1069.4" cy="457.8" r="6" fill="#2e9a4a"/><circle cx="1075.2" cy="467.4" r="6" fill="#18a1cd"/><circle cx="1073.9" cy="467.7" r="6" fill="#18a1cd"/><circle cx="1082.9" cy="467.4" r="6" fill="#18a1cd"/><circle cx="1081.2" cy="467.8" r="6" fill="#18a1cd"/><circle cx="1083.9" cy="465.9" r="6" fill="#18a1cd"/><circle cx="1083.2" cy="469.2" r="6" fill="#18a1cd"/><circle cx="1079" cy="463.5" r="6" fill="#18a1cd"/><circle cx="1091.6" cy="232.9" r="6" fill="#18a1cd"/><circle cx="1110.5" cy="231" r="6" fill="#18a1cd"/><circle cx="1115" cy="241.1" r="6" fill="#18a1cd"/><circle cx="1142" cy="244" r="6" fill="#18a1cd"/><circle cx="1139" cy="257.1" r="6" fill="#18a1cd"/><circle cx="1157.9" cy="239.7" r="6" fill="#18a1cd"/><circle cx="1163.7" cy="244.5" r="6" fill="#18a1cd"/><circle cx="1162" cy="244.9" r="6" fill="#18a1cd"/><circle cx="1164.7" cy="243" r="6" fill="#18a1cd"/><circle cx="1164" cy="246.3" r="6" fill="#18a1cd"/><circle cx="1160.8" cy="249.4" r="6" fill="#18a1cd"/><circle cx="1098.4" cy="270.2" r="6" fill="#18a1cd"/><circle cx="1096.7" cy="270.6" r="6" fill="#18a1cd"/><circle cx="1099.4" cy="268.7" r="6" fill="#18a1cd"/><circle cx="1098.7" cy="272" r="6" fill="#18a1cd"/><circle cx="1099.4" cy="275.5" r="6" fill="#18a1cd"/><circle cx="1098.1" cy="275.8" r="6" fill="#18a1cd"/><circle cx="1094.5" cy="287.6" r="6" fill="#18a1cd"/><circle cx="1093.2" cy="287.9" r="6" fill="#18a1cd"/><circle cx="1123.1" cy="263.9" r="6" fill="#18a1cd"/><circle cx="1124.5" cy="280.8" r="6" fill="#18a1cd"/><circle cx="1113.9" cy="292.9" r="6" fill="#18a1cd"/><circle cx="1099.2" cy="307.9" r="6" fill="#18a1cd"/><circle cx="1135.7" cy="272.1" r="6" fill="#18a1cd"/><circle cx="1134.4" cy="272.4" r="6" fill="#18a1cd"/><circle cx="1135.2" cy="277.4" r="6" fill="#18a1cd"/><circle cx="1146.8" cy="266.8" r="6" fill="#18a1cd"/><circle cx="1146.8" cy="272.6" r="6" fill="#18a1cd"/><circle cx="1145.5" cy="272.9" r="6" fill="#18a1cd"/><circle cx="1157.4" cy="264.8" r="6" fill="#18a1cd"/><circle cx="1156.1" cy="265.1" r="6" fill="#18a1cd"/><circle cx="1157.4" cy="270.7" r="6" fill="#18a1cd"/><circle cx="1156.1" cy="271" r="6" fill="#18a1cd"/><circle cx="1158.4" cy="276.5" r="6" fill="#18a1cd"/><circle cx="1157.1" cy="276.8" r="6" fill="#18a1cd"/><circle cx="1159.4" cy="281.3" r="6" fill="#18a1cd"/><circle cx="1158.1" cy="281.6" r="6" fill="#18a1cd"/><circle cx="1147.8" cy="284.2" r="6" fill="#18a1cd"/><circle cx="1146.5" cy="284.5" r="6" fill="#18a1cd"/><circle cx="1143.9" cy="290" r="6" fill="#18a1cd"/><circle cx="1142.6" cy="290.3" r="6" fill="#18a1cd"/><circle cx="1142.9" cy="296.8" r="6" fill="#18a1cd"/><circle cx="1141.6" cy="297.1" r="6" fill="#18a1cd"/><circle cx="1158.4" cy="287.1" r="6" fill="#18a1cd"/><circle cx="1157.1" cy="287.4" r="6" fill="#18a1cd"/><circle cx="1159.4" cy="292.9" r="6" fill="#18a1cd"/><circle cx="1158.1" cy="293.2" r="6" fill="#18a1cd"/><circle cx="1155.5" cy="300.2" r="6" fill="#2e9a4a"/><circle cx="1154.2" cy="300.5" r="6" fill="#2e9a4a"/><circle cx="1156.2" cy="299.1" r="6" fill="#2e9a4a"/><circle cx="1165.2" cy="302.1" r="6" fill="#18a1cd"/><circle cx="1151.6" cy="305.5" r="6" fill="#18a1cd"/><circle cx="1150.3" cy="305.8" r="6" fill="#18a1cd"/><circle cx="1152.3" cy="304.4" r="6" fill="#18a1cd"/><circle cx="1127.4" cy="306.5" r="6" fill="#18a1cd"/><circle cx="1125.7" cy="306.9" r="6" fill="#18a1cd"/><circle cx="1128.4" cy="305" r="6" fill="#18a1cd"/><circle cx="1127.7" cy="308.3" r="6" fill="#18a1cd"/><circle cx="1127.4" cy="317.1" r="6" fill="#2e9a4a"/><circle cx="1126.1" cy="317.4" r="6" fill="#2e9a4a"/><circle cx="1128.1" cy="316" r="6" fill="#2e9a4a"/><circle cx="1137.1" cy="314.2" r="6" fill="#18a1cd"/><circle cx="1135.8" cy="314.5" r="6" fill="#18a1cd"/><circle cx="1143.9" cy="317.1" r="6" fill="#18a1cd"/><circle cx="1118.7" cy="316.2" r="6" fill="#18a1cd"/><circle cx="1150.5" cy="205.2" r="6" fill="#18a1cd"/><circle cx="1174.7" cy="205.5" r="6" fill="#18a1cd"/><circle cx="1173.4" cy="205.8" r="6" fill="#18a1cd"/><circle cx="1172.5" cy="208" r="6" fill="#18a1cd"/><circle cx="1168.2" cy="220" r="6" fill="#18a1cd"/><circle cx="1054.2" cy="251" r="6" fill="#18a1cd"/><circle cx="1065.8" cy="284.5" r="6" fill="#18a1cd"/><circle cx="1064.5" cy="284.8" r="6" fill="#18a1cd"/><circle cx="1066.5" cy="283.4" r="6" fill="#18a1cd"/><circle cx="1060.2" cy="282.9" r="6" fill="#18a1cd"/><circle cx="822.8" cy="452.9" r="6" fill="#18a1cd"/><circle cx="845.2" cy="445.8" r="6" fill="#18a1cd"/><circle cx="836.5" cy="463.2" r="6" fill="#18a1cd"/><circle cx="816.8" cy="474.2" r="6" fill="#18a1cd"/><circle cx="815.5" cy="474.5" r="6" fill="#18a1cd"/><circle cx="827.7" cy="472.3" r="6" fill="#18a1cd"/><circle cx="826.4" cy="472.6" r="6" fill="#18a1cd"/><circle cx="828.4" cy="471.2" r="6" fill="#18a1cd"/><circle cx="823.2" cy="479.4" r="6" fill="#18a1cd"/><circle cx="821.9" cy="479.7" r="6" fill="#18a1cd"/><circle cx="887.1" cy="440.6" r="6" fill="#18a1cd"/><circle cx="885.8" cy="440.9" r="6" fill="#18a1cd"/><circle cx="877.8" cy="446.7" r="6" fill="#2e9a4a"/><circle cx="861.3" cy="460.6" r="6" fill="#18a1cd"/><circle cx="860" cy="460.9" r="6" fill="#18a1cd"/><circle cx="863.9" cy="463.9" r="6" fill="#18a1cd"/><circle cx="862.6" cy="464.2" r="6" fill="#18a1cd"/><circle cx="864.6" cy="462.8" r="6" fill="#18a1cd"/><circle cx="864.3" cy="464.3" r="6" fill="#2e9a4a"/><circle cx="868" cy="463.9" r="6" fill="#fa8c00"/><circle cx="863.2" cy="478.7" r="6" fill="#18a1cd"/><circle cx="885.2" cy="461.3" r="6" fill="#18a1cd"/><circle cx="893.5" cy="465.8" r="6" fill="#18a1cd"/><circle cx="891" cy="476.1" r="6" fill="#18a1cd"/><circle cx="915.5" cy="503.9" r="6" fill="#18a1cd"/><circle cx="850.3" cy="501.9" r="6" fill="#18a1cd"/><circle cx="809.9" cy="508.4" r="6" fill="#18a1cd"/><circle cx="843.2" cy="523.2" r="6" fill="#fa8c00"/><circle cx="845.2" cy="523.9" r="6" fill="#2e9a4a"/><circle cx="843.9" cy="524.2" r="6" fill="#2e9a4a"/><circle cx="847.1" cy="531" r="6" fill="#18a1cd"/><circle cx="845.8" cy="531.3" r="6" fill="#18a1cd"/><circle cx="855.5" cy="531.6" r="6" fill="#18a1cd"/><circle cx="854.2" cy="531.9" r="6" fill="#18a1cd"/><circle cx="856.2" cy="530.5" r="6" fill="#18a1cd"/><circle cx="831.6" cy="536.1" r="6" fill="#18a1cd"/><circle cx="856.1" cy="538.7" r="6" fill="#18a1cd"/><circle cx="876.1" cy="521.3" r="6" fill="#18a1cd"/><circle cx="912.9" cy="521.9" r="6" fill="#18a1cd"/><circle cx="911.1" cy="522.3" r="6" fill="#18a1cd"/><circle cx="913.9" cy="520.4" r="6" fill="#18a1cd"/><circle cx="913.2" cy="523.7" r="6" fill="#18a1cd"/><circle cx="913.3" cy="521.5" r="6" fill="#2e9a4a"/><circle cx="909" cy="526.5" r="6" fill="#18a1cd"/><circle cx="907.7" cy="526.8" r="6" fill="#18a1cd"/><circle cx="916.8" cy="524.5" r="6" fill="#18a1cd"/><circle cx="943.4" cy="529.2" r="6" fill="#18a1cd"/><circle cx="838.1" cy="544.5" r="6" fill="#18a1cd"/><circle cx="855.9" cy="543.2" r="6" fill="#18a1cd"/><circle cx="806.5" cy="556.8" r="6" fill="#18a1cd"/><circle cx="815.1" cy="563.2" r="6" fill="#18a1cd"/><circle cx="884.5" cy="554.2" r="6" fill="#18a1cd"/><circle cx="882.8" cy="554.6" r="6" fill="#18a1cd"/><circle cx="885.5" cy="552.7" r="6" fill="#18a1cd"/><circle cx="884.8" cy="556" r="6" fill="#18a1cd"/><circle cx="883.1" cy="553.1" r="6" fill="#18a1cd"/><circle cx="892.3" cy="549.7" r="6" fill="#18a1cd"/><circle cx="843.9" cy="571" r="6" fill="#2e9a4a"/><circle cx="842.6" cy="571.3" r="6" fill="#2e9a4a"/><circle cx="853.5" cy="567.7" r="6" fill="#18a1cd"/><circle cx="852.2" cy="568" r="6" fill="#18a1cd"/><circle cx="854.2" cy="566.6" r="6" fill="#18a1cd"/><circle cx="850" cy="569.5" r="6" fill="#18a1cd"/><circle cx="869" cy="566.5" r="6" fill="#18a1cd"/><circle cx="867.7" cy="566.8" r="6" fill="#18a1cd"/><circle cx="876.8" cy="570.3" r="6" fill="#18a1cd"/><circle cx="875" cy="570.7" r="6" fill="#18a1cd"/><circle cx="877.8" cy="568.8" r="6" fill="#18a1cd"/><circle cx="877.1" cy="572.1" r="6" fill="#18a1cd"/><circle cx="884.5" cy="572.9" r="6" fill="#18a1cd"/><circle cx="870.5" cy="572.5" r="6" fill="#18a1cd"/><circle cx="869.2" cy="572.8" r="6" fill="#18a1cd"/><circle cx="813.3" cy="584.1" r="6" fill="#18a1cd"/><circle cx="830.3" cy="592.3" r="6" fill="#18a1cd"/><circle cx="849.9" cy="583.2" r="6" fill="#18a1cd"/><circle cx="848.6" cy="583.5" r="6" fill="#18a1cd"/><circle cx="850.6" cy="582.1" r="6" fill="#18a1cd"/><circle cx="857.4" cy="598.1" r="6" fill="#18a1cd"/><circle cx="856.1" cy="598.4" r="6" fill="#18a1cd"/><circle cx="858.1" cy="597" r="6" fill="#18a1cd"/><circle cx="865.2" cy="597.4" r="6" fill="#18a1cd"/><circle cx="851.6" cy="601.5" r="6" fill="#2e9a4a"/><circle cx="850.3" cy="601.8" r="6" fill="#2e9a4a"/><circle cx="849" cy="598.7" r="6" fill="#fa8c00"/><circle cx="864.5" cy="607.7" r="6" fill="#18a1cd"/><circle cx="863.2" cy="608" r="6" fill="#18a1cd"/><circle cx="851" cy="605.2" r="6" fill="#18a1cd"/><circle cx="876.1" cy="596.8" r="6" fill="#18a1cd"/><circle cx="887.7" cy="607.1" r="6" fill="#18a1cd"/><circle cx="812.3" cy="605.8" r="6" fill="#fa8c00"/><circle cx="815.5" cy="606.5" r="6" fill="#2e9a4a"/><circle cx="817.4" cy="607.7" r="6" fill="#18a1cd"/><circle cx="835.5" cy="612.3" r="6" fill="#18a1cd"/><circle cx="834.2" cy="612.6" r="6" fill="#18a1cd"/><circle cx="836.2" cy="611.2" r="6" fill="#18a1cd"/><circle cx="811" cy="637.4" r="6" fill="#18a1cd"/><circle cx="809.7" cy="637.7" r="6" fill="#18a1cd"/><circle cx="811.7" cy="636.3" r="6" fill="#18a1cd"/><circle cx="863.2" cy="624.5" r="6" fill="#18a1cd"/><circle cx="869" cy="631" r="6" fill="#18a1cd"/><circle cx="867.3" cy="631.4" r="6" fill="#18a1cd"/><circle cx="870" cy="629.5" r="6" fill="#18a1cd"/><circle cx="869.3" cy="632.8" r="6" fill="#18a1cd"/><circle cx="866.5" cy="636" r="6" fill="#18a1cd"/><circle cx="865.2" cy="636.3" r="6" fill="#18a1cd"/><circle cx="893.5" cy="625.2" r="6" fill="#18a1cd"/><circle cx="901.3" cy="625.8" r="6" fill="#18a1cd"/><circle cx="920.6" cy="572.3" r="6" fill="#fa8c00"/><circle cx="921" cy="576" r="6" fill="#2e9a4a"/><circle cx="898.7" cy="582.6" r="6" fill="#fa8c00"/><circle cx="907.7" cy="583.2" r="6" fill="#2e9a4a"/><circle cx="906" cy="583.6" r="6" fill="#2e9a4a"/><circle cx="908.7" cy="581.7" r="6" fill="#2e9a4a"/><circle cx="908" cy="585" r="6" fill="#2e9a4a"/><circle cx="908" cy="584" r="6" fill="#18a1cd"/><circle cx="906.7" cy="584.3" r="6" fill="#18a1cd"/><circle cx="918.1" cy="587.1" r="6" fill="#18a1cd"/><circle cx="916.4" cy="587.5" r="6" fill="#18a1cd"/><circle cx="919.1" cy="585.6" r="6" fill="#18a1cd"/><circle cx="918.4" cy="588.9" r="6" fill="#18a1cd"/><circle cx="925.8" cy="580.6" r="6" fill="#18a1cd"/><circle cx="924.5" cy="580.9" r="6" fill="#18a1cd"/><circle cx="933.5" cy="581.3" r="6" fill="#18a1cd"/><circle cx="932.2" cy="581.6" r="6" fill="#18a1cd"/><circle cx="906.5" cy="593.5" r="6" fill="#18a1cd"/><circle cx="905.2" cy="593.8" r="6" fill="#18a1cd"/><circle cx="939.4" cy="567.7" r="6" fill="#18a1cd"/><circle cx="932.6" cy="612.3" r="6" fill="#18a1cd"/><circle cx="950.2" cy="621.6" r="6" fill="#18a1cd"/><circle cx="963.9" cy="620" r="6" fill="#18a1cd"/><circle cx="924.4" cy="651.5" r="6" fill="#18a1cd"/><circle cx="923.1" cy="651.8" r="6" fill="#18a1cd"/><circle cx="881.3" cy="663.5" r="6" fill="#18a1cd"/><circle cx="891.3" cy="662.7" r="6" fill="#18a1cd"/><circle cx="896.9" cy="663.5" r="6" fill="#18a1cd"/><circle cx="895.6" cy="663.8" r="6" fill="#18a1cd"/><circle cx="883.2" cy="671.6" r="6" fill="#18a1cd"/><circle cx="914.8" cy="671.6" r="6" fill="#18a1cd"/><circle cx="931.6" cy="670.8" r="6" fill="#18a1cd"/><circle cx="798.5" cy="671.3" r="6" fill="#18a1cd"/><circle cx="795" cy="681" r="6" fill="#18a1cd"/><circle cx="803.7" cy="693.9" r="6" fill="#18a1cd"/><circle cx="820.6" cy="695.5" r="6" fill="#18a1cd"/><circle cx="830" cy="673.2" r="6" fill="#2e9a4a"/><circle cx="830" cy="680.5" r="6" fill="#2e9a4a"/><circle cx="828.7" cy="680.8" r="6" fill="#2e9a4a"/><circle cx="830" cy="686.1" r="6" fill="#fa8c00"/><circle cx="827.6" cy="681.3" r="6" fill="#18a1cd"/><circle cx="843.7" cy="673.2" r="6" fill="#2e9a4a"/><circle cx="851.8" cy="693.4" r="6" fill="#18a1cd"/><circle cx="866.6" cy="691.5" r="6" fill="#18a1cd"/><circle cx="1003.1" cy="506.6" r="6" fill="#18a1cd"/><circle cx="1001.8" cy="506.9" r="6" fill="#18a1cd"/><circle cx="1003.8" cy="505.5" r="6" fill="#18a1cd"/><circle cx="1003.5" cy="506" r="6" fill="#2e9a4a"/><circle cx="1010.3" cy="507.4" r="6" fill="#fa8c00"/><circle cx="995.8" cy="508.2" r="6" fill="#18a1cd"/><circle cx="994.5" cy="508.5" r="6" fill="#18a1cd"/><circle cx="1007.1" cy="513.9" r="6" fill="#18a1cd"/><circle cx="1005.8" cy="514.2" r="6" fill="#18a1cd"/><circle cx="1018.4" cy="516.3" r="6" fill="#18a1cd"/><circle cx="1017.1" cy="516.6" r="6" fill="#18a1cd"/><circle cx="1019.1" cy="515.2" r="6" fill="#18a1cd"/><circle cx="1024.8" cy="518.7" r="6" fill="#18a1cd"/><circle cx="1041" cy="500.2" r="6" fill="#18a1cd"/><circle cx="1039.7" cy="500.5" r="6" fill="#18a1cd"/><circle cx="1049" cy="501.8" r="6" fill="#18a1cd"/><circle cx="1047.7" cy="502.1" r="6" fill="#18a1cd"/><circle cx="1049.7" cy="500.7" r="6" fill="#18a1cd"/><circle cx="1053.1" cy="500.2" r="6" fill="#18a1cd"/><circle cx="1039.4" cy="511.5" r="6" fill="#18a1cd"/><circle cx="1038.1" cy="511.8" r="6" fill="#18a1cd"/><circle cx="1040.1" cy="510.4" r="6" fill="#18a1cd"/><circle cx="1034.5" cy="509.8" r="6" fill="#18a1cd"/><circle cx="1059.5" cy="507.4" r="6" fill="#18a1cd"/><circle cx="1058.2" cy="507.7" r="6" fill="#18a1cd"/><circle cx="1066" cy="509.8" r="6" fill="#18a1cd"/><circle cx="1064.7" cy="510.1" r="6" fill="#18a1cd"/><circle cx="1065.2" cy="484.8" r="6" fill="#18a1cd"/><circle cx="1074" cy="485.6" r="6" fill="#2e9a4a"/><circle cx="1032.4" cy="530.5" r="6" fill="#18a1cd"/><circle cx="1046.3" cy="530" r="6" fill="#18a1cd"/><circle cx="1062.3" cy="532.4" r="6" fill="#18a1cd"/><circle cx="1060.6" cy="547.7" r="6" fill="#18a1cd"/><circle cx="1061.6" cy="553.4" r="6" fill="#18a1cd"/><circle cx="1060.3" cy="553.7" r="6" fill="#18a1cd"/><circle cx="972.9" cy="521.1" r="6" fill="#18a1cd"/><circle cx="983.4" cy="518.7" r="6" fill="#18a1cd"/><circle cx="968.4" cy="534.5" r="6" fill="#18a1cd"/><circle cx="984.2" cy="537.3" r="6" fill="#2e9a4a"/><circle cx="982.9" cy="537.6" r="6" fill="#2e9a4a"/><circle cx="988" cy="539.5" r="6" fill="#fa8c00"/><circle cx="982" cy="535" r="6" fill="#18a1cd"/><circle cx="980.7" cy="535.3" r="6" fill="#18a1cd"/><circle cx="981.3" cy="541.3" r="6" fill="#18a1cd"/><circle cx="994.7" cy="545.8" r="6" fill="#18a1cd"/><circle cx="963.5" cy="539.7" r="6" fill="#18a1cd"/><circle cx="957.9" cy="542.1" r="6" fill="#18a1cd"/><circle cx="953.9" cy="547.7" r="6" fill="#18a1cd"/><circle cx="952.6" cy="548" r="6" fill="#18a1cd"/><circle cx="951.5" cy="552.6" r="6" fill="#18a1cd"/><circle cx="958.7" cy="555.8" r="6" fill="#18a1cd"/><circle cx="966.3" cy="560.2" r="6" fill="#18a1cd"/><circle cx="947.4" cy="561.5" r="6" fill="#18a1cd"/><circle cx="1017.9" cy="560.2" r="6" fill="#18a1cd"/><circle cx="1016.6" cy="560.5" r="6" fill="#18a1cd"/><circle cx="982.9" cy="567.1" r="6" fill="#18a1cd"/><circle cx="982.1" cy="572.7" r="6" fill="#18a1cd"/><circle cx="980.8" cy="573" r="6" fill="#18a1cd"/><circle cx="982.8" cy="571.6" r="6" fill="#18a1cd"/><circle cx="989.7" cy="571.5" r="6" fill="#2e9a4a"/><circle cx="988.4" cy="571.8" r="6" fill="#2e9a4a"/><circle cx="990.4" cy="570.4" r="6" fill="#2e9a4a"/><circle cx="984.5" cy="577.6" r="6" fill="#18a1cd"/><circle cx="1039" cy="569.8" r="6" fill="#18a1cd"/><circle cx="1032.4" cy="583.7" r="6" fill="#18a1cd"/><circle cx="1021.6" cy="599" r="6" fill="#2e9a4a"/><circle cx="1013.1" cy="603.9" r="6" fill="#18a1cd"/><circle cx="966.8" cy="589.4" r="6" fill="#18a1cd"/><circle cx="965.5" cy="589.7" r="6" fill="#18a1cd"/><circle cx="967.5" cy="588.3" r="6" fill="#18a1cd"/><circle cx="960" cy="603.1" r="6" fill="#18a1cd"/><circle cx="963.9" cy="616.3" r="6" fill="#18a1cd"/><circle cx="962.6" cy="616.6" r="6" fill="#18a1cd"/><circle cx="995.5" cy="621.9" r="6" fill="#18a1cd"/><circle cx="994.2" cy="622.2" r="6" fill="#18a1cd"/><circle cx="995.8" cy="627.6" r="6" fill="#2e9a4a"/><circle cx="994.5" cy="627.9" r="6" fill="#2e9a4a"/><circle cx="999.8" cy="627.6" r="6" fill="#fa8c00"/><circle cx="987.9" cy="677.7" r="6" fill="#2e9a4a"/><circle cx="986.6" cy="678" r="6" fill="#2e9a4a"/><circle cx="988.6" cy="676.6" r="6" fill="#2e9a4a"/><circle cx="989" cy="676.5" r="6" fill="#fa8c00"/><circle cx="980.6" cy="685" r="6" fill="#18a1cd"/><circle cx="979.3" cy="685.3" r="6" fill="#18a1cd"/><circle cx="989.5" cy="688.2" r="6" fill="#18a1cd"/><circle cx="978.7" cy="692.3" r="6" fill="#18a1cd"/><circle cx="992.7" cy="696.8" r="6" fill="#18a1cd"/><circle cx="981" cy="713.2" r="6" fill="#18a1cd"/><circle cx="1008.9" cy="710" r="6" fill="#18a1cd"/><circle cx="1005.6" cy="724.5" r="6" fill="#2e9a4a"/><circle cx="1004.3" cy="724.8" r="6" fill="#2e9a4a"/><circle cx="1006.3" cy="723.4" r="6" fill="#2e9a4a"/><circle cx="1005.6" cy="730" r="6" fill="#fa8c00"/><circle cx="1014" cy="723" r="6" fill="#18a1cd"/><circle cx="1012.7" cy="723.3" r="6" fill="#18a1cd"/><circle cx="985.8" cy="724.5" r="6" fill="#18a1cd"/><circle cx="992.7" cy="727.7" r="6" fill="#18a1cd"/><circle cx="991.4" cy="728" r="6" fill="#18a1cd"/><circle cx="986.3" cy="740.6" r="6" fill="#18a1cd"/><circle cx="994.4" cy="740.6" r="6" fill="#18a1cd"/><circle cx="993.1" cy="740.9" r="6" fill="#18a1cd"/><circle cx="1000.8" cy="745.5" r="6" fill="#18a1cd"/><circle cx="999.5" cy="745.8" r="6" fill="#18a1cd"/><circle cx="993.5" cy="750.3" r="6" fill="#18a1cd"/><circle cx="992.2" cy="750.6" r="6" fill="#18a1cd"/><circle cx="973.4" cy="751.9" r="6" fill="#2e9a4a"/><circle cx="972.1" cy="752.2" r="6" fill="#2e9a4a"/><circle cx="974.1" cy="750.8" r="6" fill="#2e9a4a"/><circle cx="982.3" cy="749.5" r="6" fill="#2e9a4a"/><circle cx="981" cy="749.8" r="6" fill="#2e9a4a"/><circle cx="983" cy="748.4" r="6" fill="#2e9a4a"/><circle cx="982" cy="750" r="6" fill="#18a1cd"/><circle cx="980.7" cy="750.3" r="6" fill="#18a1cd"/><circle cx="971" cy="747.1" r="6" fill="#18a1cd"/><circle cx="977.4" cy="758.4" r="6" fill="#18a1cd"/><circle cx="976.1" cy="758.7" r="6" fill="#18a1cd"/><circle cx="978.1" cy="757.3" r="6" fill="#18a1cd"/><circle cx="979.8" cy="765.6" r="6" fill="#2e9a4a"/><circle cx="978.5" cy="765.9" r="6" fill="#2e9a4a"/><circle cx="979.8" cy="768.5" r="6" fill="#fa8c00"/><circle cx="1001.3" cy="786.6" r="6" fill="#18a1cd"/><circle cx="1045.2" cy="771.3" r="6" fill="#18a1cd"/><circle cx="1043.9" cy="771.6" r="6" fill="#18a1cd"/><circle cx="1046.8" cy="793.3" r="6" fill="#2e9a4a"/><circle cx="1045.5" cy="793.6" r="6" fill="#2e9a4a"/><circle cx="1047.5" cy="792.2" r="6" fill="#2e9a4a"/><circle cx="1046" cy="793.5" r="6" fill="#18a1cd"/><circle cx="1044.7" cy="793.8" r="6" fill="#18a1cd"/><circle cx="1038.5" cy="793.5" r="6" fill="#18a1cd"/><circle cx="1050" cy="794" r="6" fill="#fa8c00"/><circle cx="536.6" cy="222.4" r="6" fill="#18a1cd"/><circle cx="535.3" cy="222.7" r="6" fill="#18a1cd"/><circle cx="614.7" cy="222.4" r="6" fill="#18a1cd"/><circle cx="613.4" cy="222.7" r="6" fill="#18a1cd"/><circle cx="615.4" cy="221.3" r="6" fill="#18a1cd"/><circle cx="599.8" cy="244.4" r="6" fill="#18a1cd"/><circle cx="634.2" cy="243.7" r="6" fill="#18a1cd"/><circle cx="889.3" cy="257.9" r="6" fill="#fa8c00"/><circle cx="885.9" cy="300.1" r="6" fill="#fa8c00"/><circle cx="885.9" cy="305.8" r="6" fill="#2e9a4a"/><circle cx="884.8" cy="308" r="6" fill="#18a1cd"/><circle cx="291" cy="755" r="6" fill="#18a1cd"/><circle cx="649.9" cy="720" r="6" fill="#fa8c00"/><circle cx="649.9" cy="720" r="6" fill="#2e9a4a"/><circle cx="606.5" cy="635.4" r="6" fill="#fa8c00"/><circle cx="606.5" cy="635.4" r="6" fill="#2e9a4a"/><circle cx="437.7" cy="420.2" r="6" fill="#fa8c00"/><circle cx="247.5" cy="582.5" r="6" fill="#fa8c00"/><circle cx="247.5" cy="582.5" r="6" fill="#2e9a4a"/><circle cx="98.7" cy="185.6" r="6" fill="#fa8c00"/><circle cx="761.8" cy="456.3" r="6" fill="#fa8c00"/><circle cx="761.8" cy="456.3" r="6" fill="#2e9a4a"/><circle cx="777.9" cy="538.3" r="6" fill="#fa8c00"/><circle cx="809" cy="365.2" r="6" fill="#fa8c00"/><circle cx="811.6" cy="360" r="6" fill="#fa8c00"/><circle cx="851.6" cy="419.4" r="6" fill="#fa8c00"/><circle cx="884.5" cy="554.2" r="6" fill="#fa8c00"/><circle cx="884.5" cy="554.2" r="6" fill="#2e9a4a"/><circle cx="912.9" cy="521.9" r="6" fill="#fa8c00"/><circle cx="1003.1" cy="506.6" r="6" fill="#fa8c00"/><circle cx="1061.3" cy="401.3" r="6" fill="#fa8c00"/><circle cx="1061.3" cy="401.3" r="6" fill="#2e9a4a"/><circle cx="1093.7" cy="366" r="6" fill="#fa8c00"/><circle cx="1086.5" cy="369.4" r="6" fill="#fa8c00"/><circle cx="903.2" cy="332.9" r="6" fill="#fa8c00"/><circle cx="982.3" cy="749.5" r="6" fill="#fa8c00"/><circle cx="907.7" cy="583.2" r="6" fill="#fa8c00"/><circle cx="1072.9" cy="377.1" r="6" fill="#18a1cd"/><circle cx="1071.6" cy="377.4" r="6" fill="#18a1cd"/><circle cx="1063.7" cy="376.1" r="6" fill="#18a1cd"/><circle cx="1062.4" cy="376.4" r="6" fill="#18a1cd"/><circle cx="1088.4" cy="377.1" r="6" fill="#18a1cd"/><circle cx="1087.1" cy="377.4" r="6" fill="#18a1cd"/><circle cx="1089.1" cy="376" r="6" fill="#18a1cd"/><circle cx="1090" cy="372" r="6" fill="#18a1cd"/><circle cx="1088.7" cy="372.3" r="6" fill="#18a1cd"/></g></svg>
<h1>AISC Full Members</h1>
<div class="lg" style="left:0;top:0">
<div class="bg" style="left:1016px;top:688px;width:170px;height:76px"></div>
<div class="bg" style="left:1016px;top:803px;width:170px;height:38px"></div>
<div class="sw" style="left:1020px;top:692px;background:#18a1cd"></div><span style="left:1054px;top:689px">Fabricator</span>
<div class="sw" style="left:1020px;top:732px;background:#fa8c00"></div><span style="left:1054px;top:728px">Service</span>
<span style="left:1020px;top:763px;-webkit-text-stroke:6px #fff;paint-order:stroke fill">Center</span>
<div class="sw" style="left:1020px;top:808px;background:#2e9a4a"></div><span style="left:1054px;top:802px">Steel Mill</span>
</div>
<div class="foot">Source: American Institute of Steel Construction • Created with Datawrapper</div>
</body></html>
